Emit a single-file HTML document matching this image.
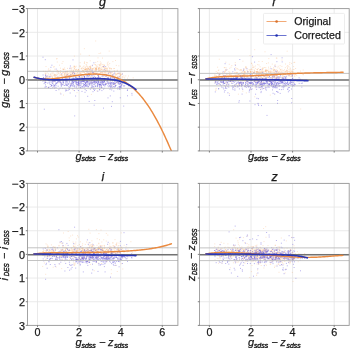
<!DOCTYPE html><html><head><meta charset="utf-8"><style>html,body{margin:0;padding:0;background:#fff;}svg{display:block;will-change:transform;}text{font-family:"Liberation Sans",sans-serif;}</style></head><body>
<svg width="350" height="348" viewBox="0 0 350 348">
<rect width="350" height="348" fill="#fff"/>
<g>
<line x1="27.50" y1="8.60" x2="177.90" y2="8.60" stroke="#e4e4e4" stroke-width="0.8"/>
<line x1="27.50" y1="32.32" x2="177.90" y2="32.32" stroke="#e4e4e4" stroke-width="0.8"/>
<line x1="27.50" y1="56.03" x2="177.90" y2="56.03" stroke="#e4e4e4" stroke-width="0.8"/>
<line x1="27.50" y1="79.75" x2="177.90" y2="79.75" stroke="#e4e4e4" stroke-width="0.8"/>
<line x1="27.50" y1="103.47" x2="177.90" y2="103.47" stroke="#e4e4e4" stroke-width="0.8"/>
<line x1="27.50" y1="127.18" x2="177.90" y2="127.18" stroke="#e4e4e4" stroke-width="0.8"/>
<line x1="27.50" y1="150.90" x2="177.90" y2="150.90" stroke="#e4e4e4" stroke-width="0.8"/>
<line x1="37.50" y1="8.60" x2="37.50" y2="150.90" stroke="#e4e4e4" stroke-width="0.8"/>
<line x1="79.10" y1="8.60" x2="79.10" y2="150.90" stroke="#e4e4e4" stroke-width="0.8"/>
<line x1="120.70" y1="8.60" x2="120.70" y2="150.90" stroke="#e4e4e4" stroke-width="0.8"/>
<line x1="162.30" y1="8.60" x2="162.30" y2="150.90" stroke="#e4e4e4" stroke-width="0.8"/>
<g fill="none" stroke="#f39a50" stroke-width="0.9" stroke-opacity="0.30">
<path d="M87.0 67.2h1M61.6 63.4h1M59.0 65.2h1M93.7 64.4h1M83.8 63.1h1M98.6 73.2h1M113.5 71.3h1M57.5 72.0h1M84.1 61.8h1M106.1 68.5h1M112.1 75.0h1M56.5 58.5h1M74.1 67.8h1M44.5 81.7h1M85.6 66.4h1M48.6 80.4h1M100.7 63.1h1M106.8 79.6h1M86.1 65.1h1M98.1 69.1h1M114.6 75.3h1M90.0 68.3h1M91.1 72.1h1M109.4 82.3h1M63.2 69.0h1M95.1 68.7h1M95.8 74.5h1M95.2 65.1h1M71.5 71.5h1M100.8 86.4h1M108.4 65.0h1M51.4 75.3h1M63.1 72.4h1M82.0 70.6h1M57.7 71.4h1M104.6 71.2h1M117.9 81.4h1M70.8 68.4h1M83.6 68.5h1M89.3 66.8h1M96.0 68.9h1M75.1 70.4h1M89.7 60.8h1M65.5 75.5h1M65.9 73.4h1M110.9 69.0h1M88.8 75.7h1M113.9 71.0h1M45.0 74.8h1M75.8 72.1h1M61.5 76.9h1M97.6 64.7h1M48.0 73.9h1M79.3 75.5h1M65.6 78.7h1M72.9 70.1h1M89.1 71.7h1M99.1 65.3h1M73.2 71.3h1M47.3 87.4h1M103.2 67.4h1M99.3 79.6h1M98.5 76.3h1M122.1 79.8h1M102.5 70.9h1M93.9 74.4h1M92.2 69.0h1M107.8 76.5h1M66.0 75.5h1M127.7 79.9h1M45.1 78.6h1M86.3 76.1h1M82.8 68.5h1M86.4 71.5h1M92.9 68.3h1M101.4 72.4h1M90.6 81.8h1M54.5 74.5h1M59.8 77.8h1M60.6 74.3h1M111.1 79.7h1M123.4 77.2h1M103.1 70.3h1M89.6 72.8h1M74.0 68.8h1M115.5 79.2h1M106.6 75.9h1M60.8 74.6h1M112.5 76.0h1M89.5 70.7h1M128.0 76.0h1M84.1 73.3h1M117.3 76.5h1M53.1 67.0h1M60.1 70.5h1M55.2 75.0h1M81.1 68.1h1M82.6 71.6h1M68.6 75.6h1M115.8 65.4h1M95.1 64.6h1M84.8 69.3h1M78.0 69.5h1M99.8 68.6h1M86.5 70.6h1M101.7 72.7h1M82.0 77.3h1M87.5 73.1h1M91.4 69.4h1M110.0 73.6h1M80.2 78.3h1M100.9 69.4h1M120.1 74.1h1M70.7 73.3h1M86.5 79.3h1"/>
<path d="M96.1 65.9h1M95.9 68.2h1M48.0 77.7h1M120.0 78.1h1M88.2 73.8h1M56.2 70.9h1M65.8 76.0h1M52.1 77.3h1M98.1 68.6h1M53.1 78.5h1M75.7 71.3h1M64.0 75.2h1M100.0 72.3h1M69.0 76.0h1M117.0 81.1h1M80.1 54.1h1M84.7 71.4h1M61.4 74.6h1M45.2 71.3h1M80.3 73.4h1M100.1 53.1h1M57.9 77.2h1M69.8 75.5h1M120.1 74.9h1M107.7 78.0h1M76.2 76.1h1M71.5 77.0h1M121.0 79.1h1M73.2 67.1h1M106.9 68.2h1M104.0 65.1h1M94.1 72.0h1M77.5 76.1h1M63.0 69.4h1M52.9 87.3h1M99.1 70.6h1M72.9 90.4h1M68.7 77.1h1M85.6 64.3h1M115.0 73.1h1M89.6 73.4h1M60.2 81.6h1M78.0 71.4h1M81.3 74.6h1M103.7 77.9h1M66.8 74.6h1M62.3 75.9h1M62.1 77.6h1M65.9 74.4h1M107.9 72.4h1M76.2 80.8h1M73.7 68.8h1M56.8 77.3h1M45.5 77.1h1M45.5 66.5h1M74.4 72.8h1M62.5 61.6h1M53.1 80.7h1M106.9 71.0h1M98.6 53.5h1M64.4 69.5h1M95.3 73.1h1M90.9 83.3h1M106.8 69.1h1M119.0 76.3h1M98.1 67.9h1M113.2 76.5h1M97.5 75.8h1M103.9 74.7h1M106.8 65.2h1M96.0 69.3h1M52.5 73.6h1M98.5 68.5h1M113.9 78.1h1M95.9 73.9h1M90.3 68.3h1M104.5 73.8h1M88.4 69.1h1M101.4 69.3h1M119.6 76.8h1M96.6 90.9h1M104.8 70.8h1M96.5 69.3h1M88.2 68.2h1M102.5 74.7h1M117.9 73.4h1M124.2 71.5h1M117.5 82.6h1M76.9 75.8h1M56.2 59.0h1M70.0 74.4h1M66.3 72.3h1M89.7 67.6h1M84.0 63.1h1M103.1 69.3h1M59.8 72.4h1M117.1 82.4h1M63.7 74.4h1M80.8 74.3h1M89.7 78.0h1M117.5 74.0h1M93.8 67.7h1M80.2 74.8h1M121.7 73.4h1M46.6 77.3h1M71.5 67.8h1M80.8 68.7h1M74.3 73.2h1M77.1 75.4h1M67.1 76.3h1M107.2 64.2h1M99.7 69.9h1M94.4 69.1h1M67.3 74.6h1M88.7 71.7h1"/>
<path d="M89.0 69.5h1M73.1 70.7h1M90.0 72.5h1M113.1 68.6h1M54.5 76.4h1M60.5 77.7h1M91.9 71.7h1M52.9 71.9h1M104.4 67.6h1M109.2 68.3h1M53.1 82.0h1M64.0 73.6h1M88.3 68.7h1M54.1 74.2h1M49.2 77.0h1M105.8 70.9h1M75.3 73.9h1M50.0 70.1h1M57.0 74.7h1M132.7 77.8h1M79.7 62.7h1M99.8 61.9h1M65.1 71.4h1M120.3 74.8h1M51.3 73.8h1M49.1 78.4h1M86.1 74.7h1M105.6 76.0h1M77.3 70.4h1M82.9 71.8h1M75.8 69.2h1M95.6 69.3h1M59.9 93.0h1M88.2 69.2h1M97.5 75.3h1M88.3 71.3h1M49.8 75.1h1M93.0 72.2h1M97.8 69.0h1M83.0 70.7h1M53.7 75.6h1M89.8 66.8h1M95.0 71.0h1M68.2 73.7h1M56.0 77.6h1M95.4 72.9h1M65.0 74.2h1M66.3 76.8h1M77.0 73.0h1M102.7 71.7h1M122.0 76.8h1M104.8 70.3h1M116.2 74.8h1M107.8 73.1h1M72.4 71.4h1M95.5 73.5h1M125.2 75.9h1M71.1 74.6h1M61.3 75.6h1M55.2 77.1h1M72.4 73.3h1M85.6 73.6h1M43.7 78.9h1M86.3 69.3h1M104.0 65.6h1M64.6 73.5h1M79.2 83.5h1M74.9 69.6h1M78.6 77.6h1M64.6 72.6h1M110.2 74.3h1M117.6 76.1h1M83.3 75.0h1M69.6 76.2h1M108.6 71.0h1M92.7 69.1h1M46.5 71.6h1M51.0 80.6h1M76.6 70.1h1M109.4 72.1h1M67.6 73.1h1M75.6 75.3h1M44.7 72.0h1M120.7 80.7h1M110.1 68.7h1M87.9 68.3h1M82.3 77.2h1M87.5 81.3h1M71.3 79.3h1M95.9 70.2h1M75.8 69.8h1M75.1 67.1h1M107.7 62.0h1M51.8 76.8h1M87.7 71.2h1M94.5 71.1h1M103.4 75.0h1M82.7 72.1h1M57.9 71.5h1M66.8 71.3h1M70.5 83.4h1M85.8 71.5h1M105.7 67.1h1M80.2 73.1h1M79.7 72.6h1M67.5 71.2h1M103.9 74.7h1M58.4 73.7h1M84.6 75.4h1M51.6 72.2h1M60.0 68.2h1M84.4 70.2h1M63.1 80.6h1M102.1 66.6h1M76.6 79.1h1"/>
<path d="M99.2 80.9h1M86.6 68.4h1M91.6 69.2h1M115.0 82.2h1M101.4 68.8h1M115.7 71.1h1M90.1 70.6h1M108.7 51.1h1M96.5 74.6h1M55.7 74.8h1M53.5 78.5h1M105.6 78.9h1M115.4 74.3h1M53.8 66.7h1M114.4 83.9h1M102.8 75.6h1M102.3 64.5h1M74.5 75.7h1M47.2 75.4h1M108.9 68.9h1M113.3 79.2h1M88.5 66.9h1M85.1 74.2h1M102.0 58.1h1M77.9 70.0h1M78.1 69.8h1M50.0 73.9h1M112.0 81.1h1M86.3 71.2h1M105.0 72.0h1M72.9 78.2h1M59.6 73.9h1M84.4 69.5h1M88.6 80.1h1M108.8 72.2h1M98.4 75.8h1M109.2 70.7h1M62.9 69.7h1M93.7 72.3h1M114.0 68.5h1M102.1 75.2h1M101.4 67.5h1M61.1 83.8h1M99.0 67.8h1M90.7 71.8h1M95.2 68.7h1M107.1 80.7h1M90.9 76.5h1M106.1 83.5h1M71.4 71.9h1M86.4 68.8h1M101.4 72.0h1M117.2 79.0h1M111.4 77.7h1M119.2 74.6h1M54.3 77.1h1M91.5 69.0h1M96.7 72.8h1M80.7 68.9h1M105.4 72.7h1M89.1 73.3h1M67.0 75.4h1M60.4 78.7h1M80.0 75.9h1M106.5 73.2h1M101.6 72.7h1M89.4 66.4h1M109.3 67.8h1M111.7 86.0h1M86.6 68.7h1M86.7 66.3h1M57.9 73.0h1M117.0 71.3h1M69.7 77.1h1M98.4 71.0h1M111.0 74.0h1M110.3 77.2h1M85.1 67.8h1M46.2 78.8h1M66.3 71.3h1M86.8 70.4h1M67.8 75.3h1M111.7 72.3h1M92.7 73.7h1M66.8 78.9h1M89.7 79.1h1M46.6 72.9h1M76.5 92.7h1M86.9 69.5h1M95.3 70.2h1M61.0 79.3h1M103.3 72.2h1M115.4 75.0h1M70.0 71.8h1M112.7 73.3h1M45.5 76.4h1M55.9 75.6h1M93.6 70.2h1M109.2 63.5h1M82.8 70.9h1M94.5 76.2h1M58.9 76.0h1M81.5 71.9h1M98.2 71.5h1M104.7 68.3h1M100.0 63.9h1M88.8 55.4h1M66.7 77.9h1M108.7 71.8h1M90.0 68.2h1M119.4 73.1h1M70.5 72.5h1M89.6 76.2h1M44.8 73.7h1"/>
<path d="M105.7 70.3h1M47.8 70.2h1M47.0 77.9h1M104.1 71.3h1M118.3 73.1h1M63.8 76.3h1M73.9 56.1h1M43.0 71.3h1M128.7 79.5h1M92.3 73.4h1M64.8 75.8h1M115.0 60.5h1M115.1 74.0h1M59.9 75.3h1M100.1 72.6h1M57.7 79.5h1M83.9 72.3h1M58.3 82.9h1M103.4 67.2h1M89.6 76.0h1M95.0 69.0h1M90.1 66.1h1M54.7 75.5h1M78.3 74.3h1M66.8 72.0h1M69.7 74.2h1M48.8 70.4h1M106.5 69.2h1M95.2 62.4h1M119.7 73.3h1M110.2 72.9h1M57.0 70.4h1M121.5 77.1h1M56.6 73.0h1M79.6 73.4h1M85.4 69.6h1M60.3 77.4h1M106.9 63.0h1M85.3 68.5h1M86.1 62.4h1M77.1 85.7h1M87.8 76.6h1M119.7 75.7h1M95.8 71.1h1M100.3 70.4h1M116.4 74.0h1M79.2 65.8h1M104.1 72.2h1M77.0 72.6h1M113.2 75.3h1M116.9 70.3h1M66.9 76.2h1M83.9 48.7h1M85.5 69.7h1M63.9 74.8h1M62.1 69.1h1M88.3 71.8h1M85.7 71.7h1M102.2 70.0h1M66.6 77.4h1M111.2 77.5h1M91.7 68.5h1M63.0 95.1h1M90.3 71.4h1M118.3 65.8h1M62.5 72.9h1M64.1 77.3h1M73.0 74.5h1M109.5 72.7h1M91.9 71.5h1M61.8 72.7h1M67.0 68.4h1M73.7 65.9h1M72.2 72.1h1M94.7 73.3h1M85.1 71.0h1M120.6 84.8h1M51.1 76.3h1M84.5 69.5h1M83.5 70.0h1M92.2 75.5h1M95.3 69.2h1M72.9 72.6h1M90.8 72.3h1M130.6 82.1h1M90.7 73.9h1M105.2 68.5h1M95.5 71.2h1M69.1 72.8h1M82.1 67.9h1M54.2 69.2h1M111.1 68.6h1M112.5 76.9h1M56.8 62.0h1M78.5 72.8h1M75.8 75.5h1M118.1 80.7h1M106.3 75.8h1M100.2 65.8h1M102.8 76.3h1M73.9 72.5h1M88.7 70.5h1M115.7 77.3h1M81.5 72.6h1M121.0 74.5h1M72.3 74.2h1M91.3 74.0h1M100.4 75.9h1M66.3 71.5h1M127.0 78.2h1M98.8 70.1h1M95.7 67.9h1M83.2 76.2h1M111.8 71.7h1"/>
<path d="M84.5 67.4h1M118.9 80.4h1M57.5 79.2h1M48.1 68.9h1M45.3 73.6h1M88.0 73.6h1M81.9 70.1h1M111.9 74.5h1M80.0 66.2h1M109.4 71.6h1M120.1 75.6h1M99.1 64.5h1M86.3 72.6h1M100.6 64.4h1M97.5 57.9h1M83.0 74.8h1M123.4 75.8h1M82.7 66.8h1M90.3 73.6h1M73.8 66.5h1M95.2 41.0h1M116.7 73.3h1M114.1 84.6h1M106.3 74.7h1M96.6 73.4h1M107.0 71.0h1M104.3 73.0h1M74.2 74.9h1M69.9 77.5h1M85.2 69.4h1M76.2 73.7h1M102.9 65.1h1M72.0 73.6h1M80.6 77.6h1M97.2 61.6h1M107.9 74.3h1M115.9 77.7h1M107.5 70.8h1M79.3 77.9h1M56.6 80.0h1M121.8 84.1h1M101.8 66.4h1M106.7 72.0h1M82.1 75.8h1M112.4 61.6h1M93.4 82.3h1M116.6 77.3h1M59.9 72.3h1M45.6 77.9h1M104.5 74.6h1M74.5 75.8h1M74.1 66.4h1M73.0 79.9h1M99.3 65.7h1M76.5 77.5h1M71.4 70.2h1M63.6 71.9h1M114.1 71.3h1M62.2 76.4h1M82.8 74.6h1M54.4 80.3h1M67.7 77.2h1M48.5 78.7h1M51.7 77.7h1M90.9 94.4h1M53.6 74.9h1M85.6 73.5h1M69.7 67.7h1M108.0 66.9h1M66.3 75.9h1M69.4 70.2h1M92.7 72.5h1M64.7 77.0h1M67.6 80.0h1M53.6 75.2h1M105.4 69.9h1M91.2 74.5h1M81.4 78.5h1M72.0 74.6h1M49.6 74.9h1M117.0 73.3h1M67.0 73.3h1M79.2 71.0h1M99.6 67.8h1M58.2 78.6h1M81.0 71.4h1M96.6 66.3h1M75.7 66.2h1M83.8 72.3h1M91.3 70.6h1M61.3 75.5h1M125.2 81.2h1M83.5 66.0h1M86.9 62.8h1M124.2 78.0h1M70.8 70.0h1M97.2 67.1h1M95.6 68.2h1M107.3 78.2h1M100.4 69.8h1M94.1 73.8h1M70.7 74.5h1M54.2 81.0h1M90.4 67.4h1M104.2 68.5h1M95.5 67.3h1M121.8 78.1h1M87.6 69.1h1M64.1 68.0h1M98.5 67.3h1M98.8 69.1h1M98.0 70.3h1M91.8 66.0h1M79.4 66.7h1"/>
</g>
<g fill="none" stroke="#6458d8" stroke-width="0.9" stroke-opacity="0.52">
<path d="M54.1 88.3h1M48.0 87.8h1M93.1 88.8h1M99.6 77.9h1M111.4 87.8h1M65.2 85.1h1M104.2 85.0h1M111.9 80.6h1M110.2 87.2h1M61.8 84.7h1M51.2 85.5h1M43.1 77.4h1M74.2 115.9h1M77.9 90.5h1M68.8 81.8h1M108.4 84.0h1M110.0 80.5h1M58.3 81.2h1M116.1 82.6h1M84.1 77.1h1M103.8 81.5h1M120.9 86.0h1M45.8 86.7h1M57.3 77.2h1M85.5 80.1h1M96.2 80.9h1M118.5 88.7h1M86.8 82.0h1M77.9 81.8h1M100.7 84.8h1M119.1 84.6h1M114.3 87.7h1M69.4 68.4h1M50.6 84.4h1M89.2 85.2h1M92.9 80.0h1M83.9 78.7h1M85.8 79.3h1M60.9 77.3h1M119.6 89.1h1M108.1 77.9h1M77.7 81.4h1M111.7 84.9h1M47.4 79.1h1M119.2 83.0h1M106.9 83.1h1M45.4 82.6h1M91.8 83.0h1M60.5 84.2h1M101.0 85.6h1M96.3 73.6h1M70.7 84.2h1M87.6 87.1h1M73.1 84.7h1M80.6 75.5h1M94.7 83.4h1M82.8 79.7h1M100.8 82.8h1M114.9 83.6h1M98.0 76.4h1M78.1 80.6h1M123.5 86.1h1M71.0 76.4h1M51.7 80.0h1M49.7 84.5h1M83.6 80.9h1M66.5 83.8h1M85.4 80.8h1M42.4 81.2h1M80.4 88.2h1M80.5 83.7h1M78.7 80.2h1M81.3 76.9h1M69.0 77.6h1M59.5 88.2h1M83.8 82.0h1M92.4 72.4h1M94.0 90.5h1M103.0 108.1h1M100.8 83.1h1M113.5 86.5h1M119.6 78.8h1M75.8 81.1h1M58.9 78.6h1M107.8 83.9h1M88.6 73.6h1M48.8 83.2h1M83.0 74.8h1M91.9 65.3h1M100.2 78.2h1M44.4 82.1h1M85.8 90.6h1M70.2 86.4h1M83.0 85.4h1M87.0 79.1h1M114.4 84.0h1M103.0 66.5h1M62.2 88.3h1M106.2 78.8h1M82.8 81.0h1M102.2 82.6h1M96.1 79.9h1M88.7 75.6h1M112.2 80.1h1M95.2 82.2h1M103.1 89.1h1M119.5 87.8h1M88.9 82.8h1M71.9 80.2h1M112.4 87.9h1M87.5 79.0h1M89.1 80.3h1M80.5 84.1h1M83.7 77.2h1M78.9 76.6h1M66.4 79.9h1"/>
<path d="M110.6 86.1h1M118.9 89.0h1M115.6 85.4h1M81.6 81.4h1M111.7 83.2h1M99.6 84.4h1M98.8 85.0h1M106.4 78.3h1M90.6 82.6h1M104.1 81.9h1M55.1 84.5h1M90.4 80.9h1M97.6 83.8h1M53.7 85.8h1M48.9 76.9h1M78.6 85.2h1M101.9 79.4h1M64.5 88.3h1M86.5 77.8h1M95.0 77.9h1M70.6 85.2h1M60.7 85.2h1M44.8 59.7h1M89.7 79.1h1M84.7 82.3h1M72.4 85.7h1M55.1 79.0h1M74.2 85.5h1M75.1 81.2h1M105.2 83.2h1M111.9 77.6h1M78.1 83.2h1M119.2 86.8h1M114.0 73.1h1M92.6 77.8h1M82.7 81.3h1M118.2 82.7h1M70.4 85.2h1M44.5 79.5h1M71.7 80.8h1M86.6 86.2h1M42.5 57.2h1M69.7 86.1h1M48.6 82.2h1M109.4 82.3h1M93.9 76.2h1M100.1 82.5h1M110.0 78.3h1M84.1 84.6h1M118.6 73.2h1M55.5 87.4h1M84.0 76.4h1M96.0 79.6h1M107.7 82.8h1M77.9 82.9h1M45.0 75.7h1M85.0 85.8h1M62.0 78.5h1M93.4 87.9h1M111.2 89.9h1M92.3 76.0h1M94.9 74.5h1M65.6 80.2h1M89.5 78.6h1M99.2 89.4h1M91.6 85.9h1M51.4 65.2h1M117.1 88.9h1M119.2 76.9h1M87.7 76.2h1M85.6 82.2h1M73.3 82.3h1M108.0 78.2h1M112.8 83.0h1M101.0 81.8h1M86.4 84.7h1M49.8 76.8h1M82.2 86.4h1M116.1 80.4h1M97.1 86.7h1M44.4 87.2h1M72.9 82.4h1M107.0 80.1h1M96.7 86.3h1M81.1 81.7h1M62.9 82.5h1M98.6 84.0h1M78.6 76.6h1M104.5 84.1h1M62.4 82.2h1M52.4 83.2h1M121.0 87.9h1M119.8 86.2h1M123.2 106.1h1M117.4 87.7h1M99.2 87.0h1M100.6 80.4h1M72.7 78.0h1M100.7 87.3h1M75.2 77.6h1M125.1 83.5h1M117.2 77.7h1M113.7 78.4h1M110.0 84.4h1M110.0 83.5h1M55.9 83.2h1M72.0 73.1h1M40.1 80.4h1M85.9 86.2h1M101.8 79.2h1M69.0 78.4h1M93.4 62.8h1M87.4 73.0h1M59.3 80.9h1M111.8 101.7h1M103.0 85.4h1"/>
<path d="M103.2 80.5h1M107.4 85.8h1M90.6 87.8h1M120.9 85.3h1M57.7 86.2h1M54.2 87.0h1M102.3 83.1h1M74.5 87.0h1M68.5 88.1h1M45.0 84.9h1M109.7 86.6h1M90.8 82.1h1M92.9 78.3h1M45.2 75.0h1M90.8 83.9h1M82.9 81.3h1M67.5 90.4h1M96.4 82.7h1M75.1 82.2h1M55.0 81.8h1M62.8 84.9h1M80.9 82.8h1M112.3 79.4h1M80.0 82.1h1M75.7 77.3h1M51.4 85.8h1M96.9 85.1h1M122.8 85.8h1M89.9 89.2h1M50.4 88.5h1M119.7 87.8h1M82.0 80.9h1M62.9 79.4h1M68.3 86.7h1M85.0 83.3h1M84.5 92.3h1M90.1 82.1h1M113.4 84.2h1M100.2 84.3h1M65.8 90.5h1M119.9 83.5h1M106.5 81.0h1M69.9 66.0h1M88.5 75.2h1M86.9 81.4h1M62.4 81.1h1M116.9 81.6h1M88.1 78.0h1M68.7 80.1h1M92.9 82.7h1M55.5 85.7h1M79.7 87.2h1M83.4 84.8h1M56.3 83.7h1M87.2 96.3h1M103.6 81.8h1M103.7 74.6h1M105.0 84.8h1M60.9 85.2h1M87.8 79.7h1M112.3 82.8h1M97.3 80.2h1M119.7 80.7h1M82.3 80.0h1M84.6 89.4h1M67.0 82.1h1M49.7 81.9h1M91.1 80.0h1M78.2 85.6h1M73.9 86.7h1M83.8 80.6h1M98.1 80.7h1M103.2 82.5h1M97.3 77.5h1M97.1 85.4h1M71.6 81.6h1M120.1 83.6h1M95.1 85.8h1M70.2 75.0h1M127.0 89.8h1M104.5 75.9h1M43.6 83.6h1M86.5 76.9h1M110.5 72.2h1M65.2 91.0h1M97.1 83.9h1M64.4 77.2h1M62.3 79.2h1M65.4 76.5h1M102.2 83.0h1M67.7 84.1h1M94.3 81.8h1M47.1 83.1h1M105.5 76.5h1M118.5 86.6h1M54.8 78.4h1M104.9 84.4h1M73.4 78.9h1M109.4 83.6h1M114.9 85.5h1M130.1 86.5h1M108.4 83.2h1M98.8 84.8h1M131.5 95.1h1M103.6 88.3h1M67.8 79.6h1M78.3 87.0h1M90.6 78.7h1M102.2 84.3h1M63.2 83.2h1M102.5 84.6h1M78.4 83.5h1M87.6 82.7h1M66.5 81.1h1M98.0 75.1h1M58.1 81.7h1"/>
<path d="M114.3 82.8h1M96.0 82.4h1M119.7 83.7h1M54.1 85.1h1M45.2 77.2h1M74.0 90.6h1M102.4 81.3h1M92.6 86.7h1M99.5 82.0h1M120.3 86.5h1M51.8 82.0h1M95.4 79.2h1M113.3 91.1h1M99.0 86.9h1M79.9 85.4h1M65.4 79.3h1M72.5 59.9h1M105.6 84.3h1M53.9 79.6h1M87.4 85.8h1M84.9 83.5h1M94.1 82.7h1M53.2 86.2h1M127.0 95.8h1M61.9 79.7h1M43.8 80.0h1M102.4 76.0h1M99.1 89.9h1M73.1 83.0h1M102.0 81.3h1M97.8 82.5h1M61.8 84.1h1M113.0 82.9h1M97.5 81.6h1M65.0 84.0h1M95.8 82.7h1M113.2 79.8h1M42.3 78.9h1M44.6 78.6h1M70.7 80.7h1M80.8 81.1h1M92.5 91.7h1M76.7 84.4h1M46.6 79.3h1M109.8 80.8h1M80.9 86.2h1M117.8 84.0h1M52.1 81.4h1M84.8 86.2h1M93.0 77.5h1M83.6 87.4h1M86.0 80.9h1M97.0 83.9h1M43.2 80.6h1M57.2 82.4h1M96.6 79.3h1M52.2 87.8h1M81.6 79.9h1M93.4 86.3h1M95.1 81.2h1M76.6 88.8h1M72.5 84.1h1M78.0 83.1h1M109.9 88.2h1M89.7 69.4h1M61.6 79.4h1M53.4 81.3h1M92.8 81.7h1M104.0 80.6h1M86.8 82.9h1M82.9 83.8h1M85.3 83.8h1M102.5 82.8h1M114.0 83.4h1M64.7 77.9h1M77.0 82.6h1M51.1 85.6h1M104.4 80.3h1M72.5 86.3h1M65.5 89.7h1M90.3 79.0h1M60.8 86.6h1M114.2 81.6h1M72.9 72.1h1M91.4 87.1h1M83.3 79.6h1M89.1 83.5h1M94.3 81.0h1M59.0 81.9h1M109.0 85.8h1M59.9 82.1h1M117.2 79.3h1M76.4 79.7h1M78.1 84.6h1M65.6 81.7h1M73.5 80.1h1M85.8 82.5h1M68.6 79.6h1M64.5 78.7h1M51.9 80.5h1M98.1 76.8h1M94.9 77.5h1M126.9 90.5h1M107.6 81.9h1M79.8 78.2h1M68.4 79.7h1M56.5 82.7h1M111.3 86.6h1M66.3 85.2h1M71.7 83.3h1M131.4 93.4h1M81.5 91.4h1M121.2 84.8h1M98.2 77.5h1M92.3 81.0h1M109.5 85.8h1"/>
<path d="M78.0 80.2h1M58.4 89.7h1M57.1 81.7h1M84.7 82.8h1M84.9 85.4h1M97.3 91.2h1M92.0 80.4h1M90.8 75.5h1M100.1 85.7h1M45.1 82.3h1M50.4 86.4h1M97.7 78.8h1M52.8 84.7h1M66.3 84.5h1M119.5 80.3h1M110.9 82.6h1M93.3 84.5h1M78.5 82.2h1M77.5 79.4h1M72.3 88.9h1M121.3 84.1h1M79.7 78.8h1M82.0 87.0h1M121.6 83.6h1M60.4 94.0h1M107.5 97.9h1M96.4 81.5h1M108.2 73.3h1M113.0 77.2h1M87.9 86.5h1M113.8 78.8h1M111.2 83.0h1M65.7 77.8h1M73.8 73.7h1M60.6 83.4h1M107.5 78.9h1M98.3 82.5h1M117.3 82.9h1M120.3 87.1h1M91.5 85.7h1M88.3 83.9h1M110.8 84.1h1M92.9 74.7h1M78.9 77.9h1M86.9 80.8h1M69.3 87.5h1M75.9 81.1h1M106.6 81.7h1M100.9 87.2h1M101.6 78.2h1M111.0 106.4h1M94.1 81.6h1M79.2 78.8h1M81.5 78.3h1M78.0 82.7h1M76.2 86.0h1M84.3 79.8h1M101.4 90.6h1M78.6 81.5h1M65.4 81.8h1M72.4 81.6h1M76.2 82.5h1M106.4 79.1h1M100.8 80.7h1M68.5 89.0h1M68.6 75.7h1M124.2 85.8h1M51.2 82.0h1M76.2 78.9h1M60.8 82.8h1M55.6 90.5h1M64.8 71.8h1M90.2 83.6h1M95.0 86.5h1M108.2 86.8h1M77.7 84.0h1M42.9 77.9h1M74.1 79.3h1M76.1 87.2h1M75.1 96.0h1M61.3 73.8h1M75.8 82.8h1M45.1 80.7h1M88.6 84.2h1M66.7 85.7h1M109.8 95.9h1M75.4 83.6h1M113.3 74.2h1M75.9 84.5h1M99.6 83.9h1M83.9 76.7h1M68.9 82.0h1M72.4 82.8h1M98.1 81.7h1M88.7 81.6h1M114.8 86.2h1M89.2 84.6h1M69.8 85.4h1M92.1 79.2h1M51.9 83.4h1M114.3 78.0h1M65.2 76.9h1M115.0 86.1h1M47.4 76.3h1M97.4 75.5h1M82.4 83.4h1M71.6 85.1h1M112.9 84.2h1M109.5 89.4h1M110.6 85.6h1M91.6 84.2h1M99.6 84.5h1M63.0 79.9h1M76.7 78.4h1M114.2 79.8h1M83.7 81.5h1"/>
<path d="M113.3 86.6h1M110.2 82.7h1M128.0 85.8h1M57.4 78.8h1M55.7 69.1h1M74.3 80.9h1M103.6 79.9h1M103.7 78.8h1M74.0 81.3h1M81.0 78.4h1M68.6 83.8h1M74.1 73.9h1M91.0 80.8h1M93.7 105.2h1M105.7 83.8h1M75.1 80.7h1M98.7 84.6h1M70.5 83.8h1M104.3 86.1h1M86.1 85.3h1M99.0 84.8h1M97.1 80.0h1M103.5 81.4h1M103.2 84.5h1M97.5 79.4h1M111.7 80.1h1M118.1 82.9h1M113.1 84.1h1M43.8 109.2h1M93.4 89.3h1M100.8 78.9h1M87.5 81.7h1M42.6 75.0h1M79.1 84.9h1M102.1 81.2h1M54.2 85.6h1M117.6 77.3h1M46.1 76.2h1M107.0 77.8h1M77.6 85.1h1M94.2 84.7h1M53.7 81.4h1M91.6 70.4h1M48.5 87.1h1M94.7 89.0h1M94.0 80.7h1M91.6 87.2h1M79.2 83.2h1M86.7 81.4h1M63.1 81.8h1M93.3 81.0h1M77.2 84.7h1M106.2 74.6h1M59.9 82.3h1M122.0 74.1h1M104.7 66.5h1M104.1 69.7h1M101.4 87.4h1M84.2 77.5h1M66.5 85.5h1M80.3 87.5h1M97.9 81.3h1M79.5 80.8h1M72.5 81.5h1M76.1 83.0h1M97.5 83.1h1M94.4 82.9h1M65.1 80.3h1M92.4 82.9h1M115.8 82.1h1M83.5 80.1h1M45.3 86.9h1M112.5 76.1h1M84.8 84.9h1M44.5 82.8h1M67.9 84.0h1M119.8 97.8h1M48.7 80.6h1M78.9 76.4h1M119.2 87.0h1M88.7 101.4h1M101.5 76.2h1M82.3 81.3h1M64.0 85.5h1M92.4 72.7h1M66.7 74.7h1M48.1 87.6h1M83.9 84.7h1M107.4 80.4h1M110.0 77.3h1M118.5 83.7h1M101.2 79.2h1M70.9 83.0h1M91.9 82.8h1M74.8 77.0h1M68.8 89.3h1M50.4 67.3h1M71.8 82.9h1M65.5 82.7h1M100.3 81.3h1M112.0 75.2h1M86.6 71.4h1M83.6 86.4h1M55.3 83.5h1M86.5 84.1h1M119.2 88.3h1M85.9 81.7h1M75.3 78.9h1M87.0 75.5h1M99.4 84.8h1M115.5 79.2h1M69.7 93.0h1M80.2 81.9h1M86.3 75.4h1M94.3 100.5h1"/>
</g>
<line x1="27.50" y1="71.30" x2="177.90" y2="71.30" stroke="#bcbcbc" stroke-width="0.9"/>
<line x1="27.50" y1="88.30" x2="177.90" y2="88.30" stroke="#bcbcbc" stroke-width="0.9"/>
<line x1="27.50" y1="80.05" x2="177.90" y2="80.05" stroke="#727272" stroke-width="1.6"/>
<clipPath id="cg"><rect x="27.50" y="8.60" width="150.40" height="142.30"/></clipPath>
<g clip-path="url(#cg)" fill="none" stroke-linecap="round">
<path d="M34.10,77.26 L35.10,77.58 L36.10,77.87 L37.10,78.12 L38.10,78.33 L39.10,78.52 L40.10,78.67 L41.10,78.80 L42.10,78.90 L43.10,78.98 L44.10,79.03 L45.10,79.06 L46.10,79.08 L47.10,79.07 L48.10,79.05 L49.10,79.01 L50.10,78.96 L51.10,78.90 L52.10,78.82 L53.10,78.74 L54.10,78.64 L55.10,78.53 L56.10,78.42 L57.10,78.30 L58.10,78.17 L59.10,78.04 L60.10,77.90 L61.10,77.76 L62.10,77.62 L63.10,77.47 L64.10,77.32 L65.10,77.17 L66.10,77.01 L67.10,76.86 L68.10,76.71 L69.10,76.55 L70.10,76.40 L71.10,76.25 L72.10,76.10 L73.10,75.96 L74.10,75.81 L75.10,75.67 L76.10,75.53 L77.10,75.40 L78.10,75.27 L79.10,75.14 L80.10,75.02 L81.10,74.91 L82.10,74.80 L83.10,74.70 L84.10,74.60 L85.10,74.51 L86.10,74.43 L87.10,74.35 L88.10,74.29 L89.10,74.23 L90.10,74.18 L91.10,74.14 L92.10,74.11 L93.10,74.09 L94.10,74.08 L95.10,74.09 L96.10,74.10 L97.10,74.13 L98.10,74.16 L99.10,74.22 L100.10,74.28 L101.10,74.36 L102.10,74.45 L103.10,74.56 L104.10,74.69 L105.10,74.83 L106.10,74.99 L107.10,75.17 L108.10,75.36 L109.10,75.57 L110.10,75.81 L111.10,76.06 L112.10,76.33 L113.10,76.63 L114.10,76.95 L115.10,77.29 L116.10,77.65 L117.10,78.04 L118.10,78.45 L119.10,78.89 L120.10,79.35 L121.10,79.84 L122.10,80.36 L123.10,80.91 L124.10,81.48 L125.10,82.09 L126.10,82.72 L127.10,83.39 L128.10,84.09 L129.10,84.82 L130.10,85.58 L131.10,86.38 L132.10,87.21 L133.10,88.08 L134.10,88.99 L135.10,89.93 L136.10,90.90 L137.10,91.92 L138.10,92.97 L139.10,94.06 L140.10,95.19 L141.10,96.36 L142.10,97.57 L143.10,98.82 L144.10,100.11 L145.10,101.44 L146.10,102.81 L147.10,104.23 L148.10,105.69 L149.10,107.18 L150.10,108.72 L151.10,110.31 L152.10,111.93 L153.10,113.60 L154.10,115.31 L155.10,117.06 L156.10,118.85 L157.10,120.68 L158.10,122.55 L159.10,124.47 L160.10,126.42 L161.10,128.42 L162.10,130.45 L163.10,132.52 L164.10,134.62 L165.10,136.76 L166.10,138.94 L167.10,141.15 L168.10,143.39 L169.10,145.67 L170.10,147.97 L171.10,150.30 L171.50,151.24" stroke="#ea8a40" stroke-width="1.45" stroke-linejoin="round"/>
<path d="M34.10,77.22 L35.10,77.51 L36.10,77.79 L37.10,78.04 L38.10,78.27 L39.10,78.48 L40.10,78.67 L41.10,78.84 L42.10,79.00 L43.10,79.14 L44.10,79.26 L45.10,79.37 L46.10,79.47 L47.10,79.56 L48.10,79.63 L49.10,79.69 L50.10,79.75 L51.10,79.79 L52.10,79.82 L53.10,79.85 L54.10,79.87 L55.10,79.88 L56.10,79.88 L57.10,79.88 L58.10,79.87 L59.10,79.86 L60.10,79.84 L61.10,79.82 L62.10,79.79 L63.10,79.76 L64.10,79.73 L65.10,79.69 L66.10,79.66 L67.10,79.62 L68.10,79.57 L69.10,79.53 L70.10,79.48 L71.10,79.44 L72.10,79.39 L73.10,79.34 L74.10,79.29 L75.10,79.25 L76.10,79.20 L77.10,79.15 L78.10,79.10 L79.10,79.06 L80.10,79.01 L81.10,78.97 L82.10,78.92 L83.10,78.88 L84.10,78.84 L85.10,78.80 L86.10,78.77 L87.10,78.74 L88.10,78.71 L89.10,78.68 L90.10,78.65 L91.10,78.63 L92.10,78.62 L93.10,78.60 L94.10,78.60 L95.10,78.59 L96.10,78.59 L97.10,78.60 L98.10,78.61 L99.10,78.63 L100.10,78.66 L101.10,78.69 L102.10,78.73 L103.10,78.77 L104.10,78.83 L105.10,78.89 L106.10,78.97 L107.10,79.05 L108.10,79.15 L109.10,79.25 L110.10,79.37 L111.10,79.50 L112.10,79.64 L113.10,79.80 L114.10,79.97 L115.10,80.16 L116.10,80.36 L117.10,80.58 L118.10,80.82 L119.10,81.08 L120.10,81.36 L121.10,81.66 L122.10,81.99 L123.10,82.33 L124.10,82.71 L125.10,83.10 L126.10,83.53 L127.10,83.98 L128.10,84.46 L129.10,84.98 L130.10,85.53 L131.10,86.11 L132.10,86.73 L133.10,87.38 L134.10,88.08 L135.10,88.81 L136.00,89.51" stroke="#2a36b4" stroke-width="1.6" stroke-linejoin="round"/>
</g>
<rect x="27.50" y="8.60" width="150.40" height="142.30" fill="none" stroke="#9a9a9a" stroke-width="0.9"/>
</g>
<g>
<line x1="199.50" y1="8.60" x2="349.20" y2="8.60" stroke="#e4e4e4" stroke-width="0.8"/>
<line x1="199.50" y1="32.32" x2="349.20" y2="32.32" stroke="#e4e4e4" stroke-width="0.8"/>
<line x1="199.50" y1="56.03" x2="349.20" y2="56.03" stroke="#e4e4e4" stroke-width="0.8"/>
<line x1="199.50" y1="79.75" x2="349.20" y2="79.75" stroke="#e4e4e4" stroke-width="0.8"/>
<line x1="199.50" y1="103.47" x2="349.20" y2="103.47" stroke="#e4e4e4" stroke-width="0.8"/>
<line x1="199.50" y1="127.18" x2="349.20" y2="127.18" stroke="#e4e4e4" stroke-width="0.8"/>
<line x1="199.50" y1="150.90" x2="349.20" y2="150.90" stroke="#e4e4e4" stroke-width="0.8"/>
<line x1="209.40" y1="8.60" x2="209.40" y2="150.90" stroke="#e4e4e4" stroke-width="0.8"/>
<line x1="251.00" y1="8.60" x2="251.00" y2="150.90" stroke="#e4e4e4" stroke-width="0.8"/>
<line x1="292.60" y1="8.60" x2="292.60" y2="150.90" stroke="#e4e4e4" stroke-width="0.8"/>
<line x1="334.20" y1="8.60" x2="334.20" y2="150.90" stroke="#e4e4e4" stroke-width="0.8"/>
<g fill="none" stroke="#f39a50" stroke-width="0.9" stroke-opacity="0.30">
<path d="M288.8 73.4h1M256.8 77.2h1M271.7 72.3h1M235.7 74.6h1M259.2 78.3h1M277.4 67.8h1M240.0 82.3h1M223.9 72.6h1M258.0 84.1h1M249.9 77.8h1M276.4 70.3h1M222.0 72.3h1M274.5 70.5h1M276.2 73.9h1M259.2 69.8h1M268.5 72.7h1M226.9 69.7h1M228.2 79.1h1M281.6 70.5h1M268.0 67.2h1M267.4 74.6h1M277.5 78.8h1M294.4 76.1h1M258.5 75.8h1M254.2 71.7h1M239.7 75.9h1M237.1 72.5h1M258.2 73.1h1M235.6 84.6h1M219.1 74.1h1M284.4 72.0h1M251.3 73.2h1M262.2 82.3h1M219.0 78.0h1M245.1 86.4h1M242.0 71.6h1M268.6 71.3h1M252.9 72.7h1M263.4 76.4h1M230.3 74.2h1M256.7 71.5h1M252.0 74.6h1M290.5 71.2h1M284.0 69.8h1M265.5 77.7h1M279.1 68.2h1M258.5 65.0h1M286.1 70.6h1M266.6 76.4h1M257.6 78.7h1M263.1 74.8h1M242.5 73.2h1M275.9 74.9h1M280.7 72.3h1M257.3 75.6h1M274.2 65.9h1M238.4 83.6h1M237.0 74.7h1M257.0 69.8h1M230.3 76.2h1M300.5 79.4h1M220.8 77.9h1M276.4 75.6h1M274.7 73.8h1M243.4 69.3h1M221.3 79.3h1M261.3 86.2h1M262.5 77.2h1M252.6 76.1h1M257.9 68.6h1M274.3 72.0h1M226.4 76.8h1M261.2 76.7h1M217.1 79.6h1M266.0 70.6h1M269.9 75.3h1M242.7 78.9h1M281.9 72.0h1M231.8 76.0h1M271.6 75.2h1M241.2 79.3h1M266.4 75.3h1M245.1 66.9h1M223.5 77.8h1M256.8 71.4h1M267.4 80.2h1M224.4 72.0h1M266.8 70.2h1M258.9 74.8h1M236.9 68.7h1M259.1 74.1h1M293.5 73.9h1M270.5 84.2h1M287.2 74.8h1M237.9 39.6h1M254.2 81.6h1M243.2 70.0h1M256.3 73.2h1M259.6 73.0h1M256.0 71.5h1M276.7 77.8h1M266.1 80.0h1M277.7 66.3h1M224.7 82.9h1M279.8 72.6h1M268.2 72.0h1M283.6 74.1h1M258.5 77.1h1M218.8 59.2h1M248.1 72.8h1M282.9 73.8h1M215.7 71.5h1M281.6 76.3h1M244.9 68.1h1M243.6 73.5h1M261.4 74.0h1"/>
<path d="M293.4 73.8h1M234.5 75.1h1M278.8 76.8h1M216.3 77.1h1M262.0 78.5h1M276.6 75.0h1M257.1 72.4h1M290.2 76.3h1M231.3 65.6h1M287.3 65.5h1M229.1 74.9h1M225.7 67.9h1M284.8 74.3h1M269.9 75.5h1M290.0 73.7h1M239.8 70.0h1M220.2 74.7h1M252.5 79.8h1M273.8 69.8h1M254.2 96.8h1M267.3 76.9h1M285.0 64.0h1M261.4 70.7h1M234.8 78.0h1M234.1 73.0h1M247.6 75.5h1M264.8 76.0h1M280.1 69.8h1M269.9 73.4h1M270.0 71.6h1M249.9 77.0h1M230.7 76.2h1M287.0 70.6h1M288.8 71.3h1M256.6 79.3h1M286.3 75.7h1M256.8 69.2h1M272.6 68.9h1M259.3 73.6h1M268.7 76.4h1M257.1 77.7h1M214.3 75.0h1M249.3 70.9h1M260.4 74.7h1M256.2 74.9h1M250.0 71.6h1M255.7 72.0h1M296.2 75.3h1M276.7 73.4h1M287.1 67.7h1M295.1 68.5h1M272.9 72.4h1M265.3 67.7h1M244.9 71.7h1M275.4 66.9h1M293.5 62.5h1M289.1 74.4h1M215.4 89.2h1M276.9 71.0h1M258.1 72.3h1M284.9 67.7h1M220.7 82.0h1M260.4 72.1h1M258.5 75.3h1M291.5 80.6h1M245.5 75.5h1M295.0 74.1h1M255.1 74.8h1M235.7 68.9h1M259.6 66.8h1M251.8 73.5h1M225.6 73.4h1M266.7 77.5h1M258.4 73.3h1M265.8 70.6h1M253.7 73.4h1M228.3 73.7h1M287.0 68.7h1M291.0 74.2h1M239.9 79.2h1M237.9 84.4h1M227.9 77.7h1M239.5 76.1h1M229.4 75.0h1M264.2 88.5h1M265.8 71.7h1M245.6 74.8h1M225.2 86.4h1M247.1 72.4h1M252.4 67.4h1M269.5 73.2h1M249.5 79.6h1M242.1 76.1h1M224.4 67.6h1M231.3 79.2h1M278.6 72.1h1M286.2 70.1h1M214.4 75.1h1M241.0 69.9h1M286.4 72.4h1M253.6 69.7h1M242.9 75.5h1M262.7 75.1h1M239.4 86.1h1M222.5 77.7h1M255.1 76.0h1M245.6 74.0h1M267.9 75.0h1M289.1 73.6h1M254.9 68.4h1M247.8 79.0h1M292.5 69.8h1M290.0 72.5h1M258.4 73.6h1M256.8 79.3h1M256.1 73.9h1"/>
<path d="M273.2 73.4h1M283.5 76.8h1M262.0 75.7h1M286.6 71.8h1M223.8 76.2h1M284.4 74.0h1M272.6 71.3h1M282.8 76.5h1M271.8 78.0h1M279.2 76.4h1M256.0 76.1h1M256.0 78.4h1M281.5 60.1h1M230.6 79.3h1M239.6 78.3h1M244.1 73.3h1M260.4 73.0h1M254.2 49.7h1M280.3 80.7h1M222.6 76.6h1M265.2 73.8h1M230.8 73.8h1M293.9 76.0h1M272.6 74.6h1M258.4 61.5h1M227.1 73.9h1M290.5 72.9h1M240.1 73.9h1M254.2 74.7h1M261.4 71.7h1M274.6 77.9h1M265.6 73.7h1M266.1 74.3h1M246.9 74.5h1M237.7 69.3h1M243.5 71.8h1M300.2 109.0h1M225.9 74.2h1M218.5 75.4h1M256.2 77.4h1M230.6 75.5h1M251.6 69.4h1M293.1 66.6h1M237.3 77.2h1M228.0 78.4h1M268.8 81.1h1M253.4 81.0h1M273.6 76.7h1M254.9 66.0h1M270.0 72.5h1M257.2 73.4h1M266.1 80.4h1M261.8 69.5h1M253.7 67.0h1M253.9 70.5h1M230.4 75.6h1M219.2 76.0h1M240.6 76.0h1M285.1 72.0h1M249.3 80.6h1M259.6 73.4h1M224.6 71.4h1M275.4 71.6h1M268.3 69.0h1M261.4 69.0h1M249.1 74.1h1M277.0 70.8h1M300.0 71.1h1M279.6 65.7h1M250.6 69.3h1M252.5 71.8h1M224.4 71.1h1M291.1 72.9h1M287.8 71.6h1M241.9 75.8h1M222.4 75.3h1M260.8 77.9h1M273.9 72.2h1M291.9 76.2h1M297.2 72.6h1M279.0 81.2h1M247.9 75.3h1M261.0 81.6h1M288.6 75.5h1M264.4 76.7h1M221.6 78.0h1M236.4 72.3h1M214.5 82.2h1M235.0 75.6h1M265.2 71.0h1M236.8 77.0h1M243.7 71.1h1M260.3 77.7h1M258.9 72.4h1M274.9 73.5h1M250.2 72.5h1M258.0 81.7h1M262.3 69.9h1M275.8 78.4h1M238.9 80.9h1M277.0 80.2h1M277.0 73.3h1M225.4 70.5h1M259.0 70.0h1M243.6 73.8h1M246.5 72.9h1M265.1 71.4h1M277.7 72.0h1M242.4 75.7h1M265.3 73.7h1M261.3 75.3h1M256.3 73.9h1M234.7 64.5h1M283.5 72.0h1M226.6 78.4h1M257.2 64.6h1"/>
<path d="M284.8 73.2h1M215.6 79.1h1M226.1 75.9h1M272.1 77.7h1M246.6 70.5h1M273.8 77.5h1M288.7 75.3h1M231.6 77.6h1M262.2 74.0h1M271.8 64.1h1M281.9 79.2h1M219.3 73.1h1M279.1 77.9h1M239.2 74.8h1M256.5 69.5h1M290.3 72.9h1M255.6 73.3h1M267.3 70.7h1M244.3 77.6h1M273.4 75.0h1M261.3 77.8h1M263.0 72.4h1M259.9 71.2h1M276.0 77.7h1M216.1 76.0h1M217.2 72.5h1M267.4 73.6h1M294.2 62.3h1M249.4 73.3h1M276.8 80.3h1M258.8 73.3h1M258.3 75.0h1M253.0 73.1h1M238.6 75.8h1M244.5 81.2h1M237.9 74.5h1M276.5 75.3h1M251.9 73.9h1M234.6 72.4h1M302.5 74.5h1M289.5 71.3h1M229.1 73.2h1M260.0 73.2h1M291.7 71.8h1M223.8 78.8h1M230.0 81.4h1M227.6 75.6h1M285.8 71.3h1M262.4 68.7h1M271.5 76.2h1M291.1 71.3h1M246.9 82.2h1M286.2 78.2h1M219.1 74.7h1M219.3 78.1h1M215.7 88.4h1M287.2 73.7h1M229.2 75.1h1M257.5 71.9h1M247.2 71.3h1M249.5 55.5h1M260.7 85.2h1M264.9 77.4h1M275.5 69.5h1M243.2 77.9h1M281.9 78.4h1M292.7 71.7h1M270.9 71.3h1M218.0 75.1h1M272.3 76.1h1M262.7 78.3h1M290.1 82.1h1M223.6 77.1h1M288.6 76.5h1M271.5 79.1h1M244.0 72.3h1M229.5 77.4h1M237.9 94.2h1M262.3 68.0h1M274.0 75.8h1M293.4 69.4h1M248.5 73.8h1M256.8 72.1h1M280.7 73.5h1M287.3 72.9h1M267.4 70.8h1M243.2 74.2h1M249.9 69.8h1M286.7 51.2h1M231.4 73.4h1M234.9 78.3h1M251.2 63.6h1M256.9 73.0h1M235.3 76.0h1M269.8 95.1h1M241.2 74.9h1M266.1 73.9h1M279.4 74.4h1M252.5 66.2h1M290.4 70.0h1M268.3 58.6h1M234.8 62.6h1M230.7 77.1h1M240.4 77.2h1M250.7 84.1h1M227.8 75.4h1M256.5 81.6h1M243.1 75.7h1M275.6 74.7h1M280.5 79.6h1M283.1 70.7h1M268.0 77.5h1M247.2 81.8h1M291.5 76.7h1M271.9 76.7h1"/>
<path d="M288.5 69.6h1M246.0 67.2h1M239.2 73.3h1M269.5 73.7h1M251.3 69.0h1M282.8 73.5h1M277.3 77.2h1M240.7 70.9h1M215.4 90.5h1M282.1 81.2h1M270.1 70.9h1M237.5 77.6h1M266.8 75.3h1M289.3 62.6h1M260.4 75.2h1M250.1 72.0h1M276.6 76.2h1M265.1 70.6h1M270.8 78.5h1M239.3 70.2h1M274.6 64.7h1M246.2 68.4h1M238.3 75.8h1M289.6 68.0h1M241.4 72.9h1M235.8 79.1h1M267.6 81.1h1M261.7 71.6h1M278.7 71.9h1M281.4 77.7h1M228.3 71.6h1M253.9 72.1h1M235.2 67.7h1M272.5 81.3h1M232.8 77.7h1M269.6 73.1h1M215.3 79.1h1M277.1 73.3h1M232.8 75.8h1M240.9 84.4h1M287.2 73.8h1M264.5 51.8h1M223.8 67.6h1M292.0 72.1h1M302.8 74.8h1M244.9 72.4h1M244.3 74.5h1M243.2 75.8h1M297.6 73.3h1M246.5 76.5h1M219.4 80.2h1M284.7 77.5h1M254.4 71.3h1M275.9 58.0h1M243.9 71.6h1M262.4 72.8h1M260.6 88.6h1M262.7 68.0h1M235.2 77.3h1M259.7 83.6h1M260.8 72.7h1M285.1 71.3h1M217.5 73.3h1M282.6 74.8h1M245.8 77.8h1M276.0 72.9h1M286.6 66.4h1M273.2 67.6h1M267.9 62.9h1M230.5 67.2h1M238.2 74.4h1M214.3 81.1h1M263.4 71.5h1M261.8 61.5h1M275.4 81.0h1M221.7 78.0h1M241.3 72.7h1M286.9 71.9h1M250.8 71.8h1M227.7 76.4h1M227.3 80.3h1M267.9 71.9h1M258.7 71.7h1M260.7 72.5h1M251.9 71.2h1M264.7 70.4h1M228.8 64.3h1M276.4 58.2h1M284.5 73.5h1M271.3 69.1h1M225.3 62.2h1M248.0 71.7h1M270.0 66.9h1M277.3 74.5h1M279.7 71.0h1M285.7 73.9h1M252.0 65.1h1M250.8 77.3h1M235.1 75.9h1M240.8 75.8h1M215.5 75.8h1M243.5 74.5h1M273.7 70.1h1M265.1 70.9h1M254.2 72.5h1M273.1 70.1h1M252.2 73.7h1M236.7 77.7h1M263.1 76.2h1M258.3 72.3h1M229.4 72.2h1M271.0 73.4h1M288.3 66.6h1M254.9 75.3h1M244.4 74.8h1"/>
<path d="M302.7 70.0h1M245.3 67.2h1M240.4 72.9h1M260.6 79.0h1M244.4 72.7h1M245.8 92.9h1M268.6 71.5h1M266.6 76.2h1M251.1 63.1h1M230.6 77.8h1M226.6 84.0h1M280.6 73.6h1M254.9 76.9h1M229.2 79.6h1M252.7 72.7h1M264.1 67.5h1M217.1 67.2h1M255.7 74.8h1M276.4 71.5h1M226.4 73.8h1M228.9 93.5h1M263.8 76.7h1M217.8 70.6h1M260.8 82.4h1M247.4 78.7h1M281.0 71.9h1M244.1 75.9h1M227.0 75.9h1M267.5 74.8h1M270.7 77.5h1M277.1 73.4h1M229.0 75.4h1M236.1 73.2h1M242.5 73.0h1M236.8 76.1h1M269.9 81.4h1M254.7 87.7h1M219.0 84.5h1M240.3 73.4h1M266.1 63.5h1M242.7 73.8h1M272.9 70.2h1M282.8 74.5h1M264.1 73.6h1M264.6 71.5h1M222.2 74.1h1M239.6 77.1h1M233.3 76.3h1M244.8 80.9h1M250.3 71.9h1M218.3 70.0h1M274.6 76.0h1M274.0 69.4h1M260.4 74.0h1M226.1 82.4h1M242.3 91.2h1M281.4 69.3h1M240.3 69.6h1M214.5 79.6h1M262.9 73.6h1M281.7 79.7h1M221.6 75.8h1M251.5 76.7h1M256.1 72.2h1M248.7 69.5h1M289.2 72.4h1M248.9 75.6h1M249.9 71.6h1M290.8 76.0h1M274.8 72.9h1M242.4 61.2h1M270.8 72.8h1M266.7 74.6h1M291.8 75.3h1M275.6 75.3h1M265.2 69.5h1M291.0 63.4h1M266.0 72.2h1M242.3 81.8h1M231.1 82.2h1M279.8 69.5h1M294.1 81.3h1M275.2 77.8h1M232.0 80.6h1M247.4 76.3h1M261.3 74.7h1M255.7 81.1h1M278.0 72.8h1M281.4 66.4h1M254.0 77.9h1M256.2 72.3h1M274.1 73.4h1M266.1 69.8h1M229.2 68.3h1M249.7 72.9h1M289.2 64.3h1M246.8 75.9h1M224.2 78.9h1M235.8 72.6h1M263.9 73.3h1M249.8 89.2h1M242.6 74.0h1M289.8 68.9h1M233.9 86.9h1M238.4 74.1h1M267.0 78.0h1M225.0 69.6h1M279.3 80.4h1M260.2 75.8h1M224.1 75.8h1M252.6 67.6h1M265.3 79.1h1M262.4 71.4h1M282.3 75.7h1M274.1 76.3h1"/>
</g>
<g fill="none" stroke="#6458d8" stroke-width="0.9" stroke-opacity="0.52">
<path d="M264.4 83.6h1M272.3 86.9h1M242.2 89.4h1M244.5 86.4h1M238.9 88.9h1M241.2 84.6h1M267.5 86.6h1M249.5 80.1h1M291.5 74.7h1M261.8 88.9h1M250.7 80.7h1M268.6 83.9h1M236.6 86.9h1M277.7 77.9h1M223.6 83.4h1M220.4 81.8h1M259.5 79.8h1M225.2 75.9h1M245.0 82.8h1M258.1 80.0h1M281.4 81.0h1M250.5 82.0h1M256.9 79.1h1M273.7 84.5h1M291.7 79.1h1M267.0 80.9h1M280.9 82.3h1M266.5 115.4h1M240.0 75.8h1M292.6 80.7h1M221.1 87.0h1M260.1 89.5h1M265.5 75.8h1M246.9 84.1h1M246.2 79.3h1M285.2 85.7h1M254.7 85.9h1M260.6 84.0h1M250.7 75.2h1M275.6 78.4h1M224.1 83.5h1M273.4 84.6h1M250.9 79.2h1M249.2 78.9h1M260.3 82.4h1M275.8 74.1h1M261.4 80.0h1M284.5 73.8h1M235.1 77.8h1M236.2 78.9h1M258.9 75.9h1M291.0 89.0h1M271.4 85.8h1M222.8 71.8h1M275.2 71.1h1M241.6 94.1h1M270.6 80.4h1M249.1 82.6h1M287.1 82.7h1M268.8 83.8h1M297.8 80.4h1M272.6 87.8h1M265.9 81.3h1M271.9 79.0h1M265.3 79.6h1M291.1 82.3h1M225.6 81.6h1M274.4 85.5h1M251.2 83.4h1M263.1 83.2h1M284.2 83.8h1M223.1 75.4h1M255.6 82.8h1M260.6 75.5h1M274.1 80.9h1M234.5 70.1h1M228.1 84.9h1M232.2 81.4h1M272.5 86.8h1M274.6 86.1h1M264.6 78.7h1M241.5 77.5h1M244.2 78.8h1M276.4 85.5h1M301.5 79.6h1M275.7 84.1h1M266.7 83.0h1M269.8 81.4h1M278.4 79.5h1M289.8 74.0h1M258.5 80.8h1M292.8 85.7h1M293.4 82.0h1M274.1 76.9h1M249.9 74.1h1M286.3 83.3h1M258.8 81.6h1M239.5 83.6h1M244.5 79.2h1M236.5 78.1h1M286.9 82.4h1M236.1 76.1h1M223.6 78.5h1M279.5 85.4h1M244.1 85.9h1M264.4 83.1h1M288.4 83.4h1M256.1 89.4h1M217.7 76.9h1M217.9 79.7h1M279.0 85.7h1M301.3 87.1h1M271.1 86.0h1M232.8 87.6h1M246.5 68.8h1M269.6 79.0h1"/>
<path d="M243.3 69.0h1M218.1 88.8h1M228.5 81.2h1M269.2 84.4h1M242.8 79.9h1M268.8 81.2h1M278.9 89.4h1M237.5 82.8h1M276.2 71.9h1M270.5 68.7h1M265.2 81.0h1M242.0 79.0h1M245.4 79.2h1M250.2 79.8h1M283.9 83.4h1M288.5 85.1h1M282.8 78.6h1M275.1 86.0h1M260.5 92.6h1M249.2 86.5h1M284.3 76.6h1M285.4 85.8h1M273.5 81.6h1M218.2 88.7h1M265.7 80.7h1M224.4 78.0h1M235.9 79.0h1M248.9 90.3h1M283.3 80.2h1M250.1 82.7h1M232.0 88.0h1M239.9 76.5h1M231.2 83.4h1M222.7 83.0h1M238.9 82.7h1M255.9 84.7h1M277.2 80.4h1M266.4 87.7h1M260.6 87.2h1M276.4 61.7h1M263.0 88.5h1M233.7 76.1h1M272.8 86.2h1M252.6 84.7h1M259.4 81.9h1M243.8 76.2h1M246.5 85.8h1M239.4 83.4h1M245.7 83.3h1M258.2 81.1h1M277.2 82.3h1M240.7 77.8h1M238.3 83.1h1M251.6 88.9h1M277.1 100.5h1M257.9 98.7h1M283.2 85.5h1M276.9 80.1h1M266.5 81.3h1M264.8 75.0h1M271.7 81.7h1M235.4 79.4h1M294.3 84.4h1M217.4 84.0h1M241.5 78.4h1M254.5 104.7h1M216.2 84.5h1M241.2 84.7h1M290.7 82.0h1M241.7 88.1h1M272.7 76.9h1M284.3 81.0h1M231.6 79.1h1M287.9 87.6h1M252.7 83.2h1M269.9 83.3h1M223.2 88.9h1M262.4 84.9h1M238.7 85.4h1M266.1 81.3h1M260.9 84.7h1M293.7 83.6h1M226.3 84.6h1M292.4 82.0h1M214.8 91.9h1M240.9 78.8h1M223.9 92.0h1M265.9 78.6h1M290.2 81.1h1M277.3 86.3h1M258.6 79.7h1M280.4 79.9h1M254.0 80.5h1M289.0 83.0h1M268.5 85.4h1M249.1 79.8h1M262.4 79.1h1M256.2 82.9h1M273.7 82.8h1M249.9 83.6h1M260.3 76.6h1M219.1 79.9h1M241.3 85.5h1M257.3 79.9h1M236.0 77.7h1M233.2 77.8h1M277.3 78.0h1M239.1 85.6h1M251.9 82.4h1M270.3 77.6h1M222.8 82.7h1M290.3 82.3h1M273.5 86.7h1M256.3 78.0h1M292.5 82.7h1"/>
<path d="M274.6 66.2h1M265.7 77.8h1M232.4 85.6h1M220.9 82.4h1M236.8 85.5h1M268.5 77.8h1M220.9 78.7h1M251.5 82.6h1M272.0 89.9h1M249.8 88.2h1M250.0 75.2h1M261.2 81.3h1M270.8 82.6h1M263.9 84.9h1M275.4 85.6h1M247.7 86.5h1M274.0 80.1h1M274.7 74.9h1M265.3 87.0h1M263.7 83.3h1M248.8 83.2h1M270.3 82.1h1M253.6 84.8h1M282.2 78.1h1M242.7 83.1h1M257.3 83.2h1M287.2 89.5h1M230.7 80.2h1M266.7 81.0h1M292.0 75.0h1M244.6 86.8h1M265.2 89.1h1M221.3 76.8h1M262.1 78.6h1M264.8 79.2h1M239.6 75.7h1M285.3 78.1h1M234.4 90.2h1M277.2 91.7h1M226.2 88.4h1M219.9 84.6h1M258.1 105.5h1M276.8 87.8h1M260.5 82.1h1M285.0 83.9h1M269.1 81.5h1M281.1 81.9h1M240.9 85.9h1M251.6 80.5h1M223.1 80.5h1M287.5 73.8h1M258.1 82.0h1M281.6 57.8h1M270.8 81.6h1M267.3 83.3h1M222.1 77.8h1M238.8 85.3h1M237.2 86.7h1M257.2 82.8h1M228.4 77.0h1M242.8 70.6h1M223.2 82.2h1M259.3 78.7h1M285.9 76.7h1M263.7 76.1h1M257.8 104.2h1M281.6 78.0h1M248.7 92.0h1M233.9 82.2h1M277.6 76.6h1M270.7 82.2h1M214.9 82.2h1M247.4 83.2h1M257.5 103.4h1M224.4 75.8h1M245.1 78.8h1M235.3 81.3h1M270.7 85.6h1M247.9 87.1h1M276.2 83.2h1M272.3 76.3h1M271.4 83.9h1M290.7 84.6h1M277.9 84.0h1M271.1 82.7h1M245.4 82.4h1M233.4 81.8h1M275.9 78.9h1M288.9 87.5h1M286.0 83.7h1M240.2 82.1h1M243.7 77.3h1M253.5 72.8h1M234.0 68.9h1M272.8 81.3h1M259.3 79.4h1M248.6 85.7h1M234.9 65.3h1M232.8 81.3h1M255.4 83.9h1M255.8 77.8h1M261.9 87.0h1M299.8 79.3h1M262.0 72.6h1M261.2 83.3h1M284.1 86.6h1M259.4 83.6h1M246.7 77.3h1M282.7 77.7h1M289.7 81.2h1M237.0 77.1h1M271.8 83.4h1M275.1 81.7h1M246.4 81.5h1M282.7 89.3h1"/>
<path d="M230.5 81.5h1M257.4 81.7h1M300.8 83.4h1M283.9 85.6h1M239.2 82.8h1M240.3 77.0h1M284.3 78.3h1M269.0 84.3h1M220.6 85.5h1M294.5 84.5h1M255.7 86.2h1M272.5 77.9h1M240.4 82.7h1M278.6 86.2h1M245.5 80.5h1M275.3 82.5h1M237.7 81.6h1M268.6 84.8h1M278.7 80.3h1M238.8 100.7h1M240.7 82.1h1M252.4 75.9h1M269.7 80.7h1M269.9 81.2h1M270.9 83.9h1M275.0 86.9h1M265.2 80.0h1M267.2 80.9h1M279.7 93.4h1M252.8 83.8h1M229.0 81.1h1M218.0 77.5h1M286.9 83.9h1M254.6 78.9h1M282.1 81.9h1M222.5 87.7h1M222.6 84.8h1M263.4 82.4h1M287.9 91.8h1M258.7 85.6h1M235.7 83.9h1M245.0 84.3h1M239.3 59.5h1M283.0 79.0h1M272.5 80.7h1M282.8 83.3h1M236.4 77.3h1M241.3 82.8h1M279.3 83.3h1M264.8 87.8h1M271.3 84.5h1M268.1 80.1h1M269.0 76.2h1M246.4 80.2h1M220.7 80.9h1M242.5 82.9h1M254.1 62.1h1M287.5 84.5h1M214.5 83.2h1M282.9 80.0h1M270.6 54.6h1M280.1 75.7h1M244.9 84.9h1M268.8 76.7h1M224.6 63.7h1M224.9 88.4h1M260.9 86.5h1M249.2 89.8h1M291.2 98.5h1M241.7 76.9h1M267.9 87.1h1M292.1 85.1h1M236.7 76.2h1M277.5 83.9h1M223.1 81.3h1M260.2 85.7h1M218.6 83.7h1M260.7 91.4h1M251.1 76.4h1M280.7 79.9h1M223.8 85.7h1M278.6 78.9h1M280.1 83.2h1M276.1 83.6h1M246.6 81.5h1M298.7 83.4h1M273.7 79.9h1M269.1 87.1h1M235.0 86.6h1M220.1 79.3h1M245.7 85.6h1M283.0 86.6h1M274.1 79.1h1M254.6 81.9h1M254.5 79.0h1M278.6 83.0h1M275.2 85.5h1M287.2 81.5h1M261.1 80.8h1M218.8 74.7h1M223.1 81.3h1M221.5 82.0h1M292.0 78.4h1M293.8 85.9h1M230.2 80.9h1M228.4 84.1h1M237.4 79.9h1M247.2 71.7h1M275.0 85.4h1M279.4 85.8h1M273.2 86.1h1M228.3 87.1h1M261.1 84.3h1M284.6 84.4h1M282.6 84.9h1"/>
<path d="M272.6 93.3h1M259.8 84.3h1M281.4 86.8h1M294.7 79.4h1M278.5 81.5h1M256.8 79.4h1M255.1 94.2h1M248.3 82.6h1M238.3 86.7h1M261.6 83.2h1M272.2 84.1h1M257.7 82.6h1M227.4 86.6h1M262.4 83.7h1M260.8 80.8h1M263.1 83.6h1M255.1 82.5h1M266.5 83.9h1M254.3 81.1h1M225.9 77.1h1M242.3 80.0h1M288.8 90.6h1M262.3 85.7h1M251.1 80.4h1M293.2 80.2h1M266.3 82.7h1M264.7 83.2h1M234.4 88.9h1M285.9 85.4h1M234.2 85.3h1M249.9 85.4h1M283.5 80.0h1M230.0 81.2h1M253.6 81.4h1M285.1 82.4h1M277.7 83.8h1M216.5 83.8h1M232.3 79.7h1M256.8 79.7h1M266.6 80.4h1M263.3 81.0h1M262.3 84.7h1M259.5 87.5h1M241.9 79.0h1M295.1 80.7h1M215.2 81.6h1M259.4 84.2h1M261.4 85.9h1M285.1 78.3h1M255.0 85.0h1M284.9 80.6h1M249.5 82.6h1M283.4 81.9h1M281.7 61.9h1M227.1 83.0h1M225.5 82.9h1M277.5 92.5h1M303.6 81.4h1M249.4 83.6h1M250.7 77.2h1M280.5 81.5h1M281.3 82.4h1M236.0 83.2h1M227.4 92.8h1M232.5 89.6h1M281.8 82.3h1M228.0 80.3h1M276.2 77.2h1M224.5 90.5h1M217.4 81.5h1M271.0 83.1h1M288.4 75.0h1M301.9 83.1h1M252.3 84.1h1M217.0 82.6h1M245.9 87.3h1M286.6 79.6h1M258.6 87.7h1M279.9 80.7h1M268.0 84.3h1M287.3 88.8h1M280.1 81.3h1M282.2 82.0h1M255.7 86.3h1M271.7 82.2h1M278.2 85.7h1M225.2 79.4h1M278.6 77.8h1M277.3 79.5h1M262.2 84.0h1M233.9 79.7h1M211.9 79.3h1M256.4 98.3h1M290.2 83.4h1M287.9 84.5h1M242.3 78.5h1M224.6 79.9h1M227.1 82.6h1M262.3 79.7h1M260.1 69.5h1M222.3 81.6h1M251.9 56.7h1M282.2 82.4h1M289.8 83.0h1M250.7 82.7h1M257.5 79.8h1M234.2 86.1h1M284.9 77.2h1M255.8 80.0h1M280.9 89.6h1M273.4 86.3h1M258.0 76.5h1M241.1 86.1h1M238.4 102.2h1M242.1 85.4h1"/>
<path d="M274.5 83.3h1M239.1 85.0h1M232.7 86.5h1M271.0 84.7h1M242.8 83.2h1M293.2 85.1h1M276.0 91.5h1M278.7 83.7h1M282.4 73.2h1M275.4 87.9h1M283.2 87.7h1M272.8 85.3h1M241.0 83.3h1M257.4 80.6h1M264.1 83.9h1M237.4 78.2h1M275.6 87.6h1M251.6 86.4h1M250.4 83.5h1M222.4 82.4h1M277.0 103.3h1M218.3 83.2h1M274.3 80.1h1M291.7 76.1h1M272.1 83.6h1M249.4 101.0h1M232.3 83.4h1M234.5 84.8h1M215.6 82.2h1M228.9 95.3h1M265.8 90.1h1M261.4 86.8h1M281.9 86.8h1M264.1 79.6h1M255.7 87.6h1M254.8 77.0h1M231.5 80.1h1M276.4 85.0h1M301.8 80.4h1M261.0 81.3h1M292.2 85.0h1M273.4 75.6h1M257.0 82.7h1M250.7 89.5h1M250.8 73.8h1M257.5 87.0h1M292.3 78.3h1M240.8 76.6h1M249.9 87.4h1M250.4 75.9h1M223.5 83.3h1M256.8 83.2h1M266.5 82.6h1M238.9 78.5h1M241.9 75.9h1M225.8 69.9h1M279.8 81.9h1M261.0 105.6h1M233.6 78.4h1M242.8 82.5h1M268.1 80.9h1M232.3 71.8h1M226.8 81.8h1M247.6 86.3h1M269.6 85.5h1M291.2 102.8h1M273.9 83.0h1M275.5 86.5h1M275.8 84.4h1M265.3 83.7h1M268.9 80.5h1M271.5 80.2h1M298.6 77.8h1M231.5 86.2h1M290.5 85.0h1M225.7 85.3h1M280.5 80.5h1M218.6 80.6h1M247.3 85.5h1M258.5 85.9h1M242.4 84.1h1M267.2 85.3h1M257.6 74.9h1M291.8 86.6h1M277.2 82.5h1M274.2 94.1h1M252.8 75.5h1M262.7 85.5h1M237.4 82.8h1M247.6 84.5h1M248.3 77.9h1M256.5 84.9h1M250.2 76.6h1M225.0 87.1h1M230.1 79.7h1M239.6 82.7h1M247.5 81.5h1M251.7 85.4h1M225.3 87.0h1M279.7 77.2h1M240.5 79.4h1M255.2 80.6h1M215.4 80.8h1M283.2 80.1h1M230.2 80.4h1M274.0 87.6h1M225.5 76.3h1M230.5 78.6h1M281.4 83.5h1M219.9 81.9h1M276.2 85.5h1M224.1 77.5h1M259.8 84.4h1M256.6 82.1h1M228.1 80.9h1"/>
</g>
<line x1="199.50" y1="73.40" x2="349.20" y2="73.40" stroke="#bcbcbc" stroke-width="0.9"/>
<line x1="199.50" y1="85.90" x2="349.20" y2="85.90" stroke="#bcbcbc" stroke-width="0.9"/>
<line x1="199.50" y1="80.05" x2="349.20" y2="80.05" stroke="#727272" stroke-width="1.6"/>
<clipPath id="cr"><rect x="199.50" y="8.60" width="149.70" height="142.30"/></clipPath>
<g clip-path="url(#cr)" fill="none" stroke-linecap="round">
<path d="M205.90,79.00 L206.90,78.74 L207.90,78.50 L208.90,78.28 L209.90,78.07 L210.90,77.89 L211.90,77.72 L212.90,77.56 L213.90,77.42 L214.90,77.29 L215.90,77.18 L216.90,77.07 L217.90,76.98 L218.90,76.89 L219.90,76.81 L220.90,76.74 L221.90,76.68 L222.90,76.62 L223.90,76.57 L224.90,76.53 L225.90,76.48 L226.90,76.45 L227.90,76.41 L228.90,76.38 L229.90,76.35 L230.90,76.33 L231.90,76.30 L232.90,76.28 L233.90,76.25 L234.90,76.23 L235.90,76.21 L236.90,76.19 L237.90,76.17 L238.90,76.15 L239.90,76.12 L240.90,76.10 L241.90,76.08 L242.90,76.05 L243.90,76.03 L244.90,76.00 L245.90,75.97 L246.90,75.94 L247.90,75.91 L248.90,75.88 L249.90,75.84 L250.90,75.80 L251.90,75.77 L252.90,75.73 L253.90,75.69 L254.90,75.65 L255.90,75.60 L256.90,75.56 L257.90,75.51 L258.90,75.46 L259.90,75.41 L260.90,75.36 L261.90,75.31 L262.90,75.26 L263.90,75.20 L264.90,75.15 L265.90,75.09 L266.90,75.03 L267.90,74.98 L268.90,74.92 L269.90,74.86 L270.90,74.80 L271.90,74.74 L272.90,74.68 L273.90,74.62 L274.90,74.56 L275.90,74.50 L276.90,74.44 L277.90,74.38 L278.90,74.32 L279.90,74.26 L280.90,74.20 L281.90,74.15 L282.90,74.09 L283.90,74.03 L284.90,73.98 L285.90,73.92 L286.90,73.87 L287.90,73.81 L288.90,73.76 L289.90,73.71 L290.90,73.66 L291.90,73.61 L292.90,73.56 L293.90,73.51 L294.90,73.47 L295.90,73.42 L296.90,73.38 L297.90,73.34 L298.90,73.29 L299.90,73.25 L300.90,73.22 L301.90,73.18 L302.90,73.14 L303.90,73.11 L304.90,73.08 L305.90,73.04 L306.90,73.01 L307.90,72.98 L308.90,72.95 L309.90,72.93 L310.90,72.90 L311.90,72.87 L312.90,72.85 L313.90,72.83 L314.90,72.80 L315.90,72.78 L316.90,72.76 L317.90,72.74 L318.90,72.72 L319.90,72.70 L320.90,72.68 L321.90,72.66 L322.90,72.65 L323.90,72.63 L324.90,72.61 L325.90,72.60 L326.90,72.58 L327.90,72.56 L328.90,72.55 L329.90,72.53 L330.90,72.51 L331.90,72.50 L332.90,72.48 L333.90,72.46 L334.90,72.45 L335.90,72.43 L336.90,72.41 L337.90,72.39 L338.90,72.38 L339.90,72.36 L340.90,72.34 L341.90,72.32 L342.90,72.30 L343.10,72.30" stroke="#ea8a40" stroke-width="1.45" stroke-linejoin="round"/>
<path d="M205.90,79.00 L206.90,78.99 L207.90,78.98 L208.90,78.97 L209.90,78.97 L210.90,78.96 L211.90,78.96 L212.90,78.96 L213.90,78.96 L214.90,78.96 L215.90,78.96 L216.90,78.96 L217.90,78.97 L218.90,78.97 L219.90,78.98 L220.90,78.98 L221.90,78.99 L222.90,79.00 L223.90,79.01 L224.90,79.02 L225.90,79.03 L226.90,79.04 L227.90,79.05 L228.90,79.06 L229.90,79.07 L230.90,79.09 L231.90,79.10 L232.90,79.11 L233.90,79.13 L234.90,79.14 L235.90,79.16 L236.90,79.17 L237.90,79.19 L238.90,79.20 L239.90,79.22 L240.90,79.23 L241.90,79.25 L242.90,79.27 L243.90,79.28 L244.90,79.30 L245.90,79.32 L246.90,79.33 L247.90,79.35 L248.90,79.37 L249.90,79.39 L250.90,79.40 L251.90,79.42 L252.90,79.44 L253.90,79.46 L254.90,79.47 L255.90,79.49 L256.90,79.51 L257.90,79.53 L258.90,79.54 L259.90,79.56 L260.90,79.58 L261.90,79.60 L262.90,79.62 L263.90,79.63 L264.90,79.65 L265.90,79.67 L266.90,79.69 L267.90,79.71 L268.90,79.72 L269.90,79.74 L270.90,79.76 L271.90,79.78 L272.90,79.80 L273.90,79.82 L274.90,79.84 L275.90,79.86 L276.90,79.87 L277.90,79.89 L278.90,79.91 L279.90,79.93 L280.90,79.95 L281.90,79.97 L282.90,79.99 L283.90,80.02 L284.90,80.04 L285.90,80.06 L286.90,80.08 L287.90,80.10 L288.90,80.13 L289.90,80.15 L290.90,80.17 L291.90,80.20 L292.90,80.22 L293.90,80.25 L294.90,80.27 L295.90,80.30 L296.90,80.33 L297.90,80.36 L298.90,80.39 L299.90,80.42 L300.90,80.45 L301.90,80.48 L302.90,80.51 L303.90,80.55 L304.90,80.58 L305.90,80.62 L306.90,80.66 L307.90,80.70 L308.00,80.70" stroke="#2a36b4" stroke-width="1.6" stroke-linejoin="round"/>
</g>
<rect x="199.50" y="8.60" width="149.70" height="142.30" fill="none" stroke="#9a9a9a" stroke-width="0.9"/>
</g>
<g>
<line x1="27.50" y1="183.40" x2="177.90" y2="183.40" stroke="#e4e4e4" stroke-width="0.8"/>
<line x1="27.50" y1="207.07" x2="177.90" y2="207.07" stroke="#e4e4e4" stroke-width="0.8"/>
<line x1="27.50" y1="230.73" x2="177.90" y2="230.73" stroke="#e4e4e4" stroke-width="0.8"/>
<line x1="27.50" y1="254.40" x2="177.90" y2="254.40" stroke="#e4e4e4" stroke-width="0.8"/>
<line x1="27.50" y1="278.07" x2="177.90" y2="278.07" stroke="#e4e4e4" stroke-width="0.8"/>
<line x1="27.50" y1="301.73" x2="177.90" y2="301.73" stroke="#e4e4e4" stroke-width="0.8"/>
<line x1="27.50" y1="325.40" x2="177.90" y2="325.40" stroke="#e4e4e4" stroke-width="0.8"/>
<line x1="37.50" y1="183.40" x2="37.50" y2="325.40" stroke="#e4e4e4" stroke-width="0.8"/>
<line x1="79.10" y1="183.40" x2="79.10" y2="325.40" stroke="#e4e4e4" stroke-width="0.8"/>
<line x1="120.70" y1="183.40" x2="120.70" y2="325.40" stroke="#e4e4e4" stroke-width="0.8"/>
<line x1="162.30" y1="183.40" x2="162.30" y2="325.40" stroke="#e4e4e4" stroke-width="0.8"/>
<g fill="none" stroke="#f39a50" stroke-width="0.9" stroke-opacity="0.30">
<path d="M118.6 250.0h1M51.3 250.5h1M101.0 263.5h1M82.3 252.5h1M96.0 249.9h1M96.3 252.4h1M106.2 261.0h1M98.3 243.8h1M117.1 252.1h1M112.7 247.2h1M117.5 246.2h1M77.3 245.5h1M95.2 250.5h1M107.2 256.9h1M91.4 240.8h1M101.3 242.0h1M93.5 252.4h1M89.1 250.7h1M117.3 247.7h1M102.8 250.2h1M49.0 256.5h1M92.4 252.0h1M92.9 251.8h1M120.6 249.6h1M76.1 250.4h1M77.0 254.2h1M93.9 248.6h1M88.1 254.2h1M71.5 250.1h1M113.2 254.9h1M121.5 248.2h1M60.9 256.7h1M108.1 250.6h1M107.2 250.7h1M114.2 246.1h1M89.6 244.9h1M101.9 254.1h1M96.5 250.7h1M112.4 242.5h1M125.6 246.9h1M82.2 254.4h1M94.4 254.2h1M79.1 263.3h1M100.9 247.9h1M99.5 256.6h1M114.4 250.1h1M72.9 249.7h1M63.0 233.0h1M119.7 252.3h1M74.7 251.7h1M69.1 250.6h1M64.9 249.9h1M68.7 253.6h1M49.6 256.9h1M108.1 253.2h1M105.1 253.0h1M58.5 245.4h1M95.4 249.7h1M75.9 251.8h1M77.3 250.6h1M75.3 242.1h1M103.8 252.5h1M118.8 249.3h1M76.1 251.2h1M76.3 255.0h1M101.5 246.7h1M78.8 251.2h1M103.8 251.3h1M78.6 250.3h1M93.6 245.8h1M45.5 251.8h1M45.5 254.4h1M52.9 249.2h1M101.3 255.8h1M59.9 253.3h1M95.9 249.8h1M90.2 252.7h1M98.3 246.9h1M74.4 263.1h1M56.4 258.0h1M92.4 257.6h1M45.5 259.4h1M122.3 269.0h1M98.8 249.8h1M103.6 252.4h1M74.1 251.0h1M71.5 251.2h1M49.7 255.1h1M80.2 249.4h1M52.8 251.0h1M77.1 250.9h1M47.5 247.8h1M59.2 250.9h1M107.3 235.1h1M76.9 254.4h1M69.3 251.3h1M86.8 247.6h1M116.8 271.5h1M101.4 250.7h1M95.9 229.6h1M115.8 244.3h1M82.0 248.5h1M88.7 254.5h1M83.0 258.7h1M87.0 249.2h1M57.6 249.2h1M103.7 245.4h1M76.9 251.5h1M86.9 251.3h1M46.2 249.8h1M68.7 249.3h1M87.8 252.6h1M106.7 250.5h1M111.1 247.8h1M58.5 246.0h1M78.0 255.8h1"/>
<path d="M79.1 258.1h1M84.3 260.6h1M50.8 253.9h1M131.9 252.2h1M108.0 252.0h1M107.7 247.4h1M111.5 253.0h1M89.9 253.1h1M75.6 247.2h1M63.3 255.3h1M85.7 256.6h1M109.0 248.5h1M65.6 251.3h1M54.1 247.7h1M118.1 250.8h1M51.3 252.5h1M110.8 251.7h1M71.5 251.9h1M103.2 239.8h1M87.9 261.9h1M105.8 233.4h1M97.6 251.4h1M122.3 251.0h1M113.4 260.1h1M110.5 253.4h1M118.8 250.3h1M86.5 254.6h1M80.5 247.2h1M90.2 252.6h1M61.7 249.4h1M85.1 252.4h1M83.4 252.9h1M78.9 248.9h1M72.1 235.1h1M91.2 246.5h1M105.1 255.1h1M84.3 253.5h1M103.7 256.5h1M98.7 248.4h1M110.8 269.7h1M45.7 253.1h1M92.0 246.0h1M84.2 254.3h1M81.2 254.2h1M63.2 253.4h1M60.1 251.2h1M72.5 250.1h1M78.9 244.6h1M78.9 254.6h1M51.1 255.4h1M68.0 252.7h1M91.1 254.8h1M87.8 242.9h1M67.2 250.1h1M56.5 253.8h1M93.1 253.6h1M95.6 253.7h1M119.2 252.9h1M95.2 248.1h1M107.9 249.6h1M61.7 253.3h1M121.2 255.7h1M106.8 248.8h1M109.3 246.1h1M100.2 251.6h1M119.7 248.3h1M102.7 250.6h1M89.8 264.5h1M64.8 259.5h1M73.9 257.7h1M112.9 245.9h1M113.7 247.4h1M64.7 248.2h1M73.6 248.8h1M42.4 255.0h1M99.7 247.7h1M81.9 253.0h1M90.3 251.1h1M95.2 253.8h1M110.9 273.7h1M107.7 249.5h1M85.9 248.9h1M106.2 261.3h1M112.4 243.3h1M130.4 241.7h1M89.0 248.1h1M95.7 251.7h1M96.7 249.4h1M115.1 265.5h1M93.7 270.7h1M109.4 248.6h1M72.8 251.4h1M68.9 240.6h1M102.5 250.9h1M103.9 245.9h1M92.8 247.7h1M77.3 250.0h1M78.6 254.2h1M106.6 257.4h1M102.6 253.4h1M59.5 242.8h1M84.8 244.4h1M98.4 233.6h1M93.5 250.8h1M113.8 251.7h1M86.2 250.3h1M91.6 246.0h1M105.4 253.3h1M87.9 252.2h1M65.2 251.2h1M42.8 251.7h1M110.9 250.0h1M67.6 250.4h1M127.3 256.9h1M61.5 255.9h1M55.7 254.7h1"/>
<path d="M102.3 250.2h1M117.9 248.0h1M96.5 256.3h1M57.0 255.2h1M55.7 253.2h1M55.1 247.4h1M78.6 257.9h1M42.5 251.9h1M85.8 251.6h1M108.8 247.2h1M51.9 256.1h1M112.5 253.2h1M73.7 246.5h1M110.0 247.2h1M116.4 242.8h1M76.8 252.0h1M90.9 244.6h1M96.9 251.1h1M96.9 252.3h1M95.6 253.6h1M114.9 255.2h1M57.5 253.2h1M54.5 251.7h1M76.5 251.2h1M52.7 267.2h1M90.8 254.4h1M72.1 254.7h1M94.4 254.0h1M82.5 251.7h1M64.6 247.3h1M91.5 251.6h1M80.1 259.5h1M54.9 255.3h1M87.1 252.0h1M83.9 249.7h1M75.9 238.9h1M83.1 248.8h1M119.4 248.8h1M61.1 243.0h1M73.6 254.3h1M73.8 249.9h1M91.9 246.2h1M70.9 253.4h1M48.1 251.6h1M47.8 254.3h1M60.9 251.2h1M67.0 253.8h1M118.3 252.0h1M87.4 250.3h1M117.5 253.7h1M112.7 256.5h1M88.4 251.1h1M75.0 248.4h1M69.1 257.3h1M82.0 254.5h1M99.7 249.6h1M90.8 249.0h1M91.4 251.0h1M96.4 256.0h1M105.5 251.9h1M96.5 245.3h1M106.1 257.4h1M70.7 250.2h1M101.2 253.4h1M81.1 248.7h1M61.4 250.4h1M89.3 250.4h1M114.5 239.7h1M46.9 256.3h1M117.7 248.6h1M117.6 250.5h1M59.4 254.4h1M96.3 258.3h1M104.5 252.8h1M90.8 255.6h1M54.8 249.8h1M81.1 257.3h1M61.8 260.1h1M90.3 249.9h1M98.3 243.2h1M104.4 256.3h1M88.1 251.7h1M76.4 249.8h1M53.7 247.5h1M65.0 250.4h1M118.0 249.2h1M98.5 247.8h1M72.9 246.1h1M95.7 261.8h1M89.4 250.8h1M70.5 254.7h1M62.7 247.1h1M90.6 257.1h1M65.6 248.0h1M68.7 237.9h1M113.8 248.6h1M70.8 247.9h1M65.0 249.6h1M63.0 253.3h1M83.2 257.9h1M79.9 241.8h1M101.7 247.9h1M55.7 267.0h1M70.8 252.6h1M121.3 250.0h1M77.4 260.7h1M93.0 249.9h1M117.6 249.4h1M62.3 246.8h1M104.5 250.7h1M49.0 249.7h1M75.8 260.5h1M92.6 256.0h1M82.0 251.2h1M62.5 254.9h1"/>
<path d="M81.3 248.6h1M48.0 253.7h1M114.3 247.6h1M86.3 252.3h1M42.5 253.2h1M73.0 246.1h1M61.1 252.8h1M100.4 247.4h1M103.8 247.1h1M96.8 254.9h1M50.9 244.9h1M120.8 263.7h1M83.7 252.7h1M87.7 247.8h1M52.3 254.0h1M119.9 253.5h1M69.0 259.4h1M92.1 248.7h1M62.4 248.0h1M109.1 251.6h1M98.1 251.6h1M67.2 251.9h1M51.4 252.1h1M112.0 254.8h1M98.3 248.6h1M76.2 259.1h1M106.1 249.9h1M117.8 250.1h1M102.0 248.4h1M65.2 253.2h1M55.3 248.9h1M123.5 252.7h1M110.8 252.6h1M74.1 265.1h1M86.7 254.0h1M118.1 245.6h1M65.4 245.0h1M127.3 249.1h1M118.3 251.8h1M69.5 256.6h1M96.7 249.8h1M53.4 251.9h1M54.1 252.3h1M77.8 237.1h1M81.8 245.6h1M86.8 249.0h1M43.9 263.0h1M101.9 250.2h1M76.3 248.1h1M71.6 247.6h1M88.3 252.2h1M82.5 249.5h1M60.4 256.4h1M71.8 251.9h1M81.9 250.0h1M74.3 247.5h1M74.3 248.3h1M75.1 255.1h1M81.5 250.6h1M74.7 256.1h1M61.9 259.0h1M61.4 253.8h1M42.3 253.8h1M47.9 249.9h1M122.3 258.3h1M74.5 264.1h1M115.0 251.1h1M75.6 251.3h1M109.0 251.0h1M47.0 256.2h1M49.5 249.5h1M91.7 249.2h1M82.6 258.2h1M89.2 252.2h1M64.1 256.1h1M65.6 248.1h1M82.0 258.4h1M101.5 253.3h1M47.4 246.5h1M93.6 252.5h1M87.7 251.1h1M84.3 253.6h1M90.5 251.4h1M91.1 255.7h1M42.2 266.4h1M81.6 257.1h1M97.9 252.6h1M85.4 251.3h1M51.6 253.6h1M121.3 251.3h1M109.5 248.8h1M46.9 249.9h1M62.0 249.9h1M73.8 255.5h1M89.6 233.1h1M92.7 249.2h1M100.6 250.0h1M58.5 254.3h1M71.1 256.3h1M49.5 250.7h1M85.0 250.6h1M66.1 248.1h1M80.2 246.5h1M45.5 243.9h1M98.4 254.9h1M115.5 253.4h1M70.2 236.0h1M45.0 260.2h1M111.8 255.9h1M75.3 249.0h1M82.3 247.6h1M72.0 251.7h1M60.1 249.6h1M54.0 250.1h1M42.4 253.1h1"/>
<path d="M121.2 247.0h1M104.9 250.2h1M84.2 249.6h1M102.1 249.8h1M92.7 245.7h1M88.7 255.4h1M45.2 274.3h1M106.3 249.3h1M105.4 251.9h1M83.4 250.8h1M54.4 247.1h1M103.0 252.1h1M100.7 254.3h1M75.2 254.0h1M77.0 235.7h1M52.7 246.5h1M73.6 265.2h1M123.7 245.2h1M107.6 251.4h1M120.1 253.8h1M74.6 246.1h1M80.0 250.2h1M69.6 250.1h1M93.3 253.1h1M97.7 248.5h1M74.1 243.9h1M75.3 243.9h1M43.1 250.3h1M94.2 249.4h1M90.4 248.3h1M73.2 263.0h1M100.6 246.0h1M62.9 249.8h1M88.5 250.8h1M84.5 254.7h1M92.0 253.4h1M105.3 258.3h1M91.3 258.2h1M92.2 256.2h1M127.9 250.2h1M59.2 264.2h1M51.9 252.8h1M116.2 245.3h1M88.4 253.4h1M44.7 250.5h1M84.4 255.3h1M66.6 251.8h1M66.6 248.5h1M109.7 250.8h1M51.8 252.0h1M56.1 256.5h1M99.9 245.6h1M83.6 251.4h1M84.2 252.9h1M100.6 250.1h1M92.1 244.0h1M97.0 248.1h1M44.5 247.5h1M98.9 255.2h1M53.5 247.3h1M61.9 251.5h1M98.0 247.2h1M53.3 251.8h1M91.7 256.1h1M70.8 254.1h1M98.2 253.4h1M67.7 231.5h1M70.4 250.9h1M75.7 250.6h1M103.8 254.5h1M88.2 251.7h1M99.0 239.7h1M116.1 243.8h1M104.3 252.6h1M117.7 250.1h1M45.8 251.7h1M113.3 249.1h1M44.6 254.1h1M62.4 245.7h1M87.4 249.2h1M99.4 246.1h1M120.8 247.5h1M116.7 249.0h1M109.1 243.8h1M82.1 243.8h1M42.2 254.4h1M117.3 251.9h1M98.6 248.5h1M80.9 258.3h1M59.1 254.3h1M105.8 255.7h1M99.3 248.5h1M72.3 254.9h1M77.8 248.4h1M118.8 254.7h1M120.8 232.9h1M110.6 246.8h1M60.2 255.8h1M101.2 253.6h1M109.9 251.4h1M72.6 242.1h1M82.0 248.8h1M108.0 251.0h1M118.6 243.1h1M71.8 254.0h1M84.4 249.1h1M78.4 259.8h1M47.5 252.0h1M95.0 249.3h1M90.3 245.9h1M61.8 243.7h1M42.4 252.0h1M114.8 254.0h1M73.1 251.5h1M126.7 252.0h1"/>
<path d="M82.8 253.8h1M89.2 246.4h1M108.8 257.5h1M97.6 257.1h1M79.0 255.6h1M99.7 256.0h1M71.5 249.3h1M107.2 256.4h1M46.7 244.9h1M97.9 247.5h1M98.4 254.5h1M98.1 248.3h1M115.8 250.9h1M97.8 263.2h1M92.2 259.2h1M62.2 254.5h1M87.8 253.6h1M114.1 247.3h1M105.8 241.1h1M94.0 248.6h1M87.6 249.3h1M47.5 246.0h1M100.5 230.0h1M96.4 251.9h1M101.7 250.6h1M104.9 251.0h1M102.0 249.1h1M56.8 252.0h1M110.2 253.4h1M85.5 248.5h1M78.9 249.7h1M78.3 252.2h1M61.2 268.6h1M110.5 250.3h1M84.5 254.9h1M88.5 252.7h1M111.2 248.7h1M104.6 252.0h1M102.5 252.6h1M82.6 250.1h1M65.1 253.0h1M103.3 248.7h1M71.7 258.2h1M96.7 238.7h1M122.5 250.1h1M86.3 261.3h1M65.6 252.8h1M88.3 258.4h1M104.2 248.4h1M91.9 247.4h1M101.7 249.2h1M107.8 252.1h1M50.7 252.2h1M95.6 250.1h1M117.9 249.0h1M49.8 252.9h1M79.5 248.6h1M97.4 257.7h1M90.0 250.1h1M86.1 242.0h1M45.7 256.2h1M55.1 249.0h1M94.6 250.8h1M101.6 248.8h1M75.0 252.6h1M63.5 251.4h1M64.6 251.6h1M89.6 254.9h1M93.8 248.2h1M97.5 248.7h1M70.8 248.6h1M61.4 250.1h1M82.2 250.8h1M83.1 251.4h1M114.2 250.6h1M68.8 250.6h1M85.0 254.1h1M101.6 245.5h1M115.5 252.8h1M110.7 253.3h1M113.5 252.0h1M85.0 258.5h1M85.4 256.0h1M112.6 245.7h1M99.7 248.2h1M94.9 253.8h1M106.1 249.3h1M72.9 255.6h1M43.3 255.4h1M88.5 245.5h1M96.9 251.6h1M46.6 254.6h1M78.3 259.9h1M57.0 254.7h1M52.1 253.5h1M59.7 256.0h1M60.5 252.5h1M78.8 249.1h1M88.3 229.3h1M93.4 248.2h1M51.3 251.8h1M99.6 248.0h1M75.3 255.2h1M111.2 251.8h1M52.2 250.6h1M121.7 248.6h1M115.0 248.5h1M104.3 247.9h1M115.4 244.8h1M112.4 250.4h1M47.2 247.3h1M82.6 248.0h1M104.6 253.8h1M93.4 251.4h1M72.4 250.5h1"/>
</g>
<g fill="none" stroke="#6458d8" stroke-width="0.9" stroke-opacity="0.52">
<path d="M81.2 254.8h1M115.8 257.1h1M118.7 250.5h1M60.8 257.3h1M62.2 257.0h1M109.3 255.0h1M119.6 254.3h1M80.2 260.9h1M92.4 251.8h1M72.3 264.7h1M96.5 258.7h1M50.4 254.3h1M103.9 266.6h1M76.2 259.1h1M100.7 249.8h1M92.3 261.1h1M90.8 252.3h1M109.1 259.2h1M111.7 254.8h1M109.4 248.4h1M90.1 250.7h1M112.8 264.4h1M113.5 265.5h1M107.7 251.0h1M92.8 252.7h1M106.3 254.1h1M97.6 249.7h1M57.0 247.8h1M70.0 258.6h1M125.0 257.7h1M95.6 257.6h1M87.6 249.2h1M58.4 229.7h1M99.6 255.8h1M79.4 256.4h1M101.4 257.4h1M69.8 265.4h1M46.4 250.2h1M119.7 257.6h1M100.6 257.9h1M79.3 255.2h1M63.4 251.2h1M97.4 259.5h1M93.9 253.5h1M67.0 253.6h1M85.3 253.5h1M87.1 261.3h1M97.9 253.7h1M84.4 254.6h1M123.9 256.4h1M116.2 254.9h1M100.3 260.8h1M62.7 252.2h1M67.6 245.4h1M80.2 246.8h1M131.2 253.7h1M71.1 256.5h1M67.5 253.3h1M110.0 277.1h1M112.7 254.7h1M74.6 249.1h1M111.7 256.9h1M117.2 255.2h1M112.5 254.5h1M92.6 244.7h1M95.1 258.0h1M78.6 254.2h1M92.6 252.5h1M87.3 254.1h1M118.5 251.8h1M54.1 255.9h1M103.3 257.9h1M46.7 268.2h1M87.8 254.3h1M126.6 256.7h1M110.3 257.4h1M83.8 258.5h1M93.4 254.0h1M89.9 257.1h1M115.3 260.6h1M111.5 256.2h1M54.4 264.5h1M55.7 259.1h1M77.1 254.8h1M91.9 257.1h1M111.2 249.6h1M66.4 243.4h1M60.3 262.2h1M108.4 257.9h1M75.3 260.0h1M106.5 256.9h1M87.3 265.4h1M112.9 251.8h1M49.3 255.5h1M63.3 255.3h1M109.0 261.2h1M125.4 249.1h1M49.5 259.0h1M55.2 254.1h1M103.1 253.4h1M82.7 258.5h1M60.9 241.5h1M92.9 260.1h1M80.6 261.9h1M60.3 251.3h1M83.3 254.7h1M65.4 255.2h1M71.1 259.5h1M109.3 260.4h1M122.5 254.6h1M62.8 255.3h1M64.5 257.4h1M93.7 249.8h1M90.5 259.7h1M58.8 255.0h1M73.3 260.0h1"/>
<path d="M82.9 257.2h1M105.5 255.5h1M119.9 259.0h1M56.9 260.0h1M112.8 260.3h1M86.3 261.1h1M88.7 256.6h1M92.5 249.8h1M131.1 257.4h1M104.6 271.9h1M98.5 265.0h1M80.1 251.5h1M65.7 259.3h1M79.6 255.7h1M66.7 248.8h1M63.4 251.4h1M99.8 259.5h1M97.8 258.0h1M78.2 257.2h1M97.0 252.5h1M47.8 253.0h1M63.7 256.9h1M109.5 255.1h1M119.8 245.7h1M76.2 252.0h1M96.5 257.7h1M111.0 254.2h1M46.6 250.1h1M86.2 255.8h1M48.4 261.2h1M71.0 265.1h1M66.2 256.1h1M88.0 260.5h1M96.0 261.5h1M120.7 259.8h1M81.9 260.9h1M112.7 258.4h1M110.5 250.4h1M75.5 262.0h1M82.2 255.5h1M81.8 258.5h1M85.3 258.6h1M83.4 262.2h1M107.7 242.3h1M101.4 254.2h1M80.0 259.3h1M115.9 257.4h1M89.1 262.5h1M107.0 259.7h1M114.3 256.6h1M68.6 254.6h1M54.8 266.3h1M60.7 257.7h1M75.6 252.4h1M114.3 246.9h1M100.9 261.3h1M103.8 256.2h1M102.8 257.3h1M43.6 253.7h1M93.4 261.5h1M53.0 250.8h1M86.0 258.6h1M81.3 256.0h1M95.8 262.4h1M86.9 255.1h1M52.1 247.9h1M109.7 249.3h1M100.4 249.4h1M125.6 258.9h1M115.5 253.2h1M62.9 256.5h1M104.4 258.3h1M81.1 252.2h1M111.3 253.4h1M93.2 253.8h1M115.9 257.3h1M94.2 254.5h1M76.6 259.6h1M87.8 244.4h1M91.6 256.2h1M85.1 261.3h1M102.5 257.9h1M130.5 254.8h1M113.2 258.7h1M94.3 254.8h1M110.6 253.1h1M120.4 259.2h1M106.1 258.2h1M63.5 252.4h1M94.5 248.3h1M91.2 273.1h1M49.8 264.5h1M45.9 263.3h1M53.6 260.4h1M95.3 256.5h1M53.1 255.8h1M81.8 262.5h1M65.6 253.1h1M79.7 264.3h1M80.1 260.2h1M112.7 262.6h1M126.5 258.6h1M83.4 255.8h1M116.5 249.2h1M112.3 259.1h1M98.3 259.5h1M74.5 255.4h1M103.2 258.3h1M118.2 261.1h1M105.9 256.0h1M89.4 257.8h1M113.4 254.2h1M87.1 260.7h1M121.2 257.0h1M98.4 263.6h1M86.0 261.6h1"/>
<path d="M80.9 260.8h1M75.1 252.3h1M69.5 254.2h1M80.3 256.1h1M64.4 271.0h1M111.7 255.3h1M72.7 258.9h1M97.6 257.3h1M94.3 252.5h1M55.4 256.8h1M53.9 252.8h1M55.2 259.0h1M119.6 255.5h1M76.5 259.3h1M65.2 263.4h1M98.7 252.5h1M97.1 259.1h1M66.5 254.9h1M100.6 258.2h1M121.9 263.5h1M83.1 254.5h1M91.3 258.0h1M98.3 255.1h1M91.4 254.7h1M91.4 257.4h1M98.2 249.7h1M73.9 249.4h1M65.5 257.0h1M106.0 259.4h1M47.0 256.0h1M85.6 253.6h1M67.1 260.0h1M86.3 257.2h1M53.6 254.9h1M93.4 252.4h1M106.1 258.0h1M71.5 258.9h1M100.2 246.8h1M64.8 254.4h1M52.2 256.4h1M112.6 260.8h1M114.8 257.3h1M73.2 256.6h1M71.6 267.4h1M42.2 254.8h1M122.4 256.1h1M85.5 262.7h1M84.3 253.8h1M51.3 258.1h1M87.1 261.4h1M72.1 252.7h1M106.4 258.3h1M62.3 243.0h1M117.2 258.1h1M81.9 257.9h1M121.4 258.8h1M92.5 255.4h1M104.9 258.9h1M75.7 261.4h1M107.5 260.4h1M85.1 254.4h1M118.6 266.8h1M110.8 256.7h1M55.9 257.3h1M98.0 260.5h1M100.2 256.7h1M91.8 256.4h1M110.3 257.0h1M114.6 262.3h1M106.4 257.3h1M67.1 255.2h1M69.0 250.2h1M93.5 248.6h1M122.0 256.9h1M93.1 257.6h1M75.8 261.1h1M50.1 258.5h1M86.3 261.9h1M72.6 253.3h1M86.8 260.3h1M81.1 258.0h1M59.1 256.7h1M119.7 258.7h1M79.4 255.3h1M65.3 257.4h1M106.5 260.9h1M97.9 256.6h1M58.9 251.9h1M102.5 264.3h1M105.2 254.0h1M121.1 256.2h1M85.5 259.6h1M112.0 253.1h1M87.3 255.9h1M83.3 258.1h1M90.8 247.7h1M62.4 255.1h1M58.5 252.9h1M75.2 252.5h1M94.4 261.2h1M67.3 256.8h1M45.5 264.6h1M96.9 254.0h1M76.2 260.0h1M87.4 255.5h1M61.5 249.9h1M96.1 254.8h1M49.7 258.9h1M72.4 255.1h1M49.0 259.6h1M103.7 258.7h1M85.7 257.7h1M123.5 232.7h1M96.0 257.0h1M107.6 257.4h1"/>
<path d="M104.4 258.8h1M87.0 255.7h1M123.3 256.3h1M45.1 279.3h1M91.8 258.5h1M95.6 260.5h1M82.9 253.6h1M50.1 253.9h1M78.8 253.1h1M105.6 259.2h1M59.7 242.0h1M67.4 267.5h1M111.1 252.9h1M71.5 256.2h1M109.4 258.7h1M81.6 257.1h1M119.5 255.6h1M44.4 255.0h1M86.9 239.9h1M109.9 262.1h1M51.6 252.5h1M96.3 253.7h1M104.3 253.3h1M95.1 250.4h1M92.9 253.2h1M104.6 259.1h1M61.5 254.7h1M86.1 250.7h1M83.3 252.9h1M50.3 255.1h1M117.1 259.2h1M49.4 251.0h1M117.0 252.1h1M103.5 252.8h1M91.0 250.4h1M81.1 250.8h1M103.3 259.7h1M97.2 253.0h1M100.4 249.9h1M119.0 259.9h1M51.8 256.0h1M86.4 256.5h1M42.7 248.9h1M80.6 259.2h1M70.6 269.0h1M101.4 254.5h1M96.9 254.5h1M56.1 255.6h1M104.6 261.7h1M126.2 244.6h1M69.9 256.0h1M79.9 260.8h1M54.5 252.4h1M74.5 250.8h1M104.9 255.6h1M74.1 227.2h1M47.8 256.0h1M104.3 263.8h1M56.5 259.6h1M93.5 253.7h1M89.0 254.0h1M58.7 263.8h1M107.9 258.5h1M44.3 256.9h1M95.7 261.8h1M106.6 258.4h1M78.4 259.6h1M114.8 260.4h1M78.7 260.4h1M44.2 252.8h1M60.4 259.7h1M93.4 251.8h1M90.6 257.1h1M79.2 261.8h1M64.0 255.4h1M94.9 257.9h1M51.3 249.4h1M57.2 257.8h1M75.2 268.1h1M96.7 257.7h1M80.2 252.3h1M75.7 253.1h1M76.2 259.4h1M106.1 255.1h1M98.0 256.0h1M71.3 253.7h1M110.7 257.0h1M82.1 257.0h1M81.9 258.0h1M83.8 250.1h1M59.1 259.2h1M116.2 261.5h1M68.0 250.8h1M53.9 256.4h1M93.0 257.3h1M58.1 252.1h1M100.7 258.8h1M78.4 252.1h1M119.3 261.7h1M48.5 261.9h1M92.7 255.3h1M75.9 255.2h1M110.7 255.3h1M66.7 254.0h1M83.6 251.7h1M55.1 259.3h1M89.3 253.3h1M105.5 253.7h1M58.3 252.3h1M96.7 256.3h1M117.3 258.2h1M106.2 256.2h1M88.5 250.6h1M106.5 255.4h1M51.8 258.7h1"/>
<path d="M66.9 257.5h1M56.7 253.2h1M91.8 257.5h1M89.7 258.0h1M131.4 258.0h1M89.7 257.5h1M69.6 257.4h1M93.1 255.0h1M101.7 257.9h1M67.1 249.4h1M117.2 254.2h1M98.1 254.5h1M64.5 255.3h1M71.4 253.5h1M48.4 254.4h1M69.1 264.4h1M94.8 255.1h1M121.6 255.8h1M62.6 254.5h1M89.7 257.0h1M77.3 263.3h1M105.1 257.7h1M93.5 253.0h1M89.7 259.7h1M89.3 242.7h1M75.0 257.6h1M97.0 255.4h1M68.9 262.2h1M115.5 265.4h1M112.6 251.6h1M104.6 263.0h1M78.9 258.6h1M74.0 257.0h1M83.3 259.5h1M112.9 262.0h1M98.9 258.5h1M90.4 260.5h1M85.1 259.2h1M108.3 258.6h1M80.9 252.1h1M113.9 261.4h1M79.0 257.2h1M89.7 256.5h1M48.9 255.4h1M89.9 254.8h1M120.4 259.5h1M90.9 249.9h1M81.9 253.4h1M52.3 249.6h1M83.4 253.4h1M107.1 244.3h1M118.0 261.4h1M81.4 259.4h1M111.1 263.6h1M92.2 269.8h1M108.5 258.2h1M88.9 259.5h1M83.7 256.2h1M93.5 258.7h1M43.3 260.9h1M93.2 255.9h1M103.0 256.2h1M62.6 245.5h1M114.7 263.6h1M95.4 257.4h1M62.7 256.8h1M59.2 258.1h1M114.0 258.1h1M92.0 264.2h1M102.8 262.2h1M76.4 259.7h1M94.5 260.4h1M76.8 248.8h1M127.0 261.4h1M59.3 254.2h1M82.6 259.4h1M121.9 256.9h1M84.8 254.3h1M97.3 252.0h1M87.1 254.0h1M68.8 254.9h1M88.7 247.5h1M52.2 253.3h1M107.0 259.0h1M119.9 241.4h1M80.7 251.7h1M79.7 265.1h1M90.5 257.8h1M118.4 258.2h1M93.5 259.4h1M120.2 255.8h1M122.9 255.8h1M89.4 258.4h1M88.4 259.6h1M72.9 260.8h1M114.1 254.5h1M78.5 261.9h1M86.1 258.1h1M100.5 264.5h1M59.4 252.8h1M85.0 251.9h1M75.5 253.2h1M108.3 256.2h1M82.7 260.0h1M50.5 247.7h1M79.6 252.8h1M73.4 252.0h1M106.8 254.8h1M88.4 256.8h1M62.8 253.5h1M92.0 251.6h1M56.4 253.6h1M117.3 254.7h1M53.9 254.7h1M83.5 256.7h1"/>
<path d="M56.0 256.6h1M88.5 262.5h1M91.0 254.6h1M105.2 255.8h1M63.6 254.8h1M112.1 262.1h1M103.7 256.7h1M89.6 253.5h1M96.0 259.9h1M98.9 256.0h1M76.0 257.7h1M123.7 257.4h1M47.1 258.3h1M88.5 254.0h1M62.3 260.2h1M121.4 256.7h1M55.5 253.7h1M86.6 263.2h1M57.4 253.5h1M65.9 251.8h1M67.1 256.9h1M103.2 253.5h1M103.6 253.2h1M68.5 254.5h1M55.1 250.2h1M84.0 257.3h1M107.9 256.1h1M89.0 260.1h1M90.6 254.0h1M103.0 261.1h1M65.1 258.1h1M84.7 252.1h1M77.3 259.8h1M88.9 261.9h1M120.6 249.6h1M82.4 261.9h1M118.0 259.9h1M116.5 254.6h1M69.1 255.1h1M42.7 258.9h1M119.6 252.6h1M102.1 258.7h1M77.6 258.1h1M93.7 256.7h1M113.3 257.6h1M61.3 260.4h1M97.5 271.4h1M114.8 254.2h1M88.1 258.0h1M77.4 252.5h1M102.3 250.4h1M99.8 253.8h1M74.9 259.6h1M57.5 254.2h1M44.8 248.4h1M46.5 258.2h1M106.1 261.8h1M101.9 261.1h1M115.7 255.8h1M121.4 257.5h1M69.1 270.2h1M64.7 250.8h1M75.7 253.7h1M101.2 257.3h1M77.4 261.9h1M84.2 250.7h1M83.6 257.6h1M75.2 258.0h1M99.9 265.1h1M92.7 259.1h1M106.6 252.9h1M101.9 259.2h1M111.9 255.4h1M57.6 253.1h1M92.3 256.0h1M88.6 255.6h1M111.7 258.7h1M93.8 255.4h1M71.1 260.5h1M59.0 254.6h1M107.1 255.9h1M63.2 257.6h1M96.6 256.0h1M94.6 259.3h1M123.5 255.9h1M82.1 258.7h1M73.1 243.7h1M108.5 256.9h1M58.9 257.4h1M91.3 251.2h1M87.1 251.1h1M65.9 255.1h1M107.9 259.6h1M64.2 260.7h1M64.5 259.0h1M100.5 252.9h1M58.1 253.3h1M109.6 258.9h1M71.4 255.9h1M57.5 257.9h1M84.2 250.1h1M89.9 255.3h1M77.9 260.4h1M105.9 253.3h1M110.6 259.4h1M75.4 255.0h1M113.3 258.0h1M96.1 258.4h1M104.8 260.8h1M82.8 271.9h1M65.1 256.5h1M66.4 252.7h1M72.1 254.3h1M82.7 253.9h1M89.4 252.4h1"/>
</g>
<line x1="27.50" y1="247.80" x2="177.90" y2="247.80" stroke="#bcbcbc" stroke-width="0.9"/>
<line x1="27.50" y1="260.50" x2="177.90" y2="260.50" stroke="#bcbcbc" stroke-width="0.9"/>
<line x1="27.50" y1="254.70" x2="177.90" y2="254.70" stroke="#727272" stroke-width="1.6"/>
<clipPath id="ci"><rect x="27.50" y="183.40" width="150.40" height="142.00"/></clipPath>
<g clip-path="url(#ci)" fill="none" stroke-linecap="round">
<path d="M33.90,254.00 L34.90,253.86 L35.90,253.73 L36.90,253.62 L37.90,253.51 L38.90,253.41 L39.90,253.33 L40.90,253.25 L41.90,253.18 L42.90,253.11 L43.90,253.05 L44.90,253.00 L45.90,252.96 L46.90,252.92 L47.90,252.88 L48.90,252.85 L49.90,252.82 L50.90,252.80 L51.90,252.78 L52.90,252.76 L53.90,252.74 L54.90,252.73 L55.90,252.72 L56.90,252.71 L57.90,252.71 L58.90,252.70 L59.90,252.69 L60.90,252.69 L61.90,252.69 L62.90,252.68 L63.90,252.68 L64.90,252.68 L65.90,252.68 L66.90,252.68 L67.90,252.67 L68.90,252.67 L69.90,252.67 L70.90,252.67 L71.90,252.66 L72.90,252.66 L73.90,252.65 L74.90,252.65 L75.90,252.64 L76.90,252.63 L77.90,252.63 L78.90,252.62 L79.90,252.61 L80.90,252.60 L81.90,252.58 L82.90,252.57 L83.90,252.56 L84.90,252.54 L85.90,252.53 L86.90,252.51 L87.90,252.49 L88.90,252.48 L89.90,252.46 L90.90,252.44 L91.90,252.41 L92.90,252.39 L93.90,252.37 L94.90,252.35 L95.90,252.32 L96.90,252.29 L97.90,252.27 L98.90,252.24 L99.90,252.21 L100.90,252.18 L101.90,252.15 L102.90,252.12 L103.90,252.09 L104.90,252.06 L105.90,252.02 L106.90,251.99 L107.90,251.95 L108.90,251.92 L109.90,251.88 L110.90,251.84 L111.90,251.80 L112.90,251.76 L113.90,251.72 L114.90,251.68 L115.90,251.64 L116.90,251.59 L117.90,251.55 L118.90,251.50 L119.90,251.45 L120.90,251.40 L121.90,251.35 L122.90,251.29 L123.90,251.24 L124.90,251.18 L125.90,251.12 L126.90,251.06 L127.90,251.00 L128.90,250.94 L129.90,250.87 L130.90,250.80 L131.90,250.73 L132.90,250.65 L133.90,250.57 L134.90,250.49 L135.90,250.41 L136.90,250.32 L137.90,250.23 L138.90,250.14 L139.90,250.04 L140.90,249.94 L141.90,249.83 L142.90,249.72 L143.90,249.61 L144.90,249.49 L145.90,249.36 L146.90,249.23 L147.90,249.10 L148.90,248.96 L149.90,248.81 L150.90,248.66 L151.90,248.50 L152.90,248.34 L153.90,248.16 L154.90,247.99 L155.90,247.80 L156.90,247.61 L157.90,247.40 L158.90,247.20 L159.90,246.98 L160.90,246.75 L161.90,246.52 L162.90,246.27 L163.90,246.02 L164.90,245.76 L165.90,245.49 L166.90,245.21 L167.90,244.91 L168.90,244.61 L169.90,244.29 L170.90,243.97 L171.40,243.80" stroke="#ea8a40" stroke-width="1.45" stroke-linejoin="round"/>
<path d="M33.90,254.00 L34.90,254.01 L35.90,254.02 L36.90,254.02 L37.90,254.03 L38.90,254.04 L39.90,254.05 L40.90,254.06 L41.90,254.07 L42.90,254.08 L43.90,254.09 L44.90,254.10 L45.90,254.11 L46.90,254.12 L47.90,254.14 L48.90,254.15 L49.90,254.16 L50.90,254.17 L51.90,254.19 L52.90,254.20 L53.90,254.21 L54.90,254.23 L55.90,254.24 L56.90,254.25 L57.90,254.27 L58.90,254.28 L59.90,254.30 L60.90,254.31 L61.90,254.33 L62.90,254.34 L63.90,254.36 L64.90,254.38 L65.90,254.39 L66.90,254.41 L67.90,254.42 L68.90,254.44 L69.90,254.46 L70.90,254.47 L71.90,254.49 L72.90,254.51 L73.90,254.52 L74.90,254.54 L75.90,254.56 L76.90,254.58 L77.90,254.59 L78.90,254.61 L79.90,254.63 L80.90,254.65 L81.90,254.67 L82.90,254.68 L83.90,254.70 L84.90,254.72 L85.90,254.74 L86.90,254.76 L87.90,254.78 L88.90,254.79 L89.90,254.81 L90.90,254.83 L91.90,254.85 L92.90,254.87 L93.90,254.89 L94.90,254.91 L95.90,254.92 L96.90,254.94 L97.90,254.96 L98.90,254.98 L99.90,255.00 L100.90,255.02 L101.90,255.04 L102.90,255.05 L103.90,255.07 L104.90,255.09 L105.90,255.11 L106.90,255.13 L107.90,255.14 L108.90,255.16 L109.90,255.18 L110.90,255.20 L111.90,255.22 L112.90,255.23 L113.90,255.25 L114.90,255.27 L115.90,255.29 L116.90,255.30 L117.90,255.32 L118.90,255.34 L119.90,255.35 L120.90,255.37 L121.90,255.39 L122.90,255.40 L123.90,255.42 L124.90,255.44 L125.90,255.45 L126.90,255.47 L127.90,255.48 L128.90,255.50 L129.90,255.51 L130.90,255.53 L131.90,255.54 L132.90,255.56 L133.90,255.57 L134.90,255.58 L135.90,255.60 L136.00,255.60" stroke="#2a36b4" stroke-width="1.6" stroke-linejoin="round"/>
</g>
<rect x="27.50" y="183.40" width="150.40" height="142.00" fill="none" stroke="#9a9a9a" stroke-width="0.9"/>
</g>
<g>
<line x1="199.50" y1="183.40" x2="349.20" y2="183.40" stroke="#e4e4e4" stroke-width="0.8"/>
<line x1="199.50" y1="207.07" x2="349.20" y2="207.07" stroke="#e4e4e4" stroke-width="0.8"/>
<line x1="199.50" y1="230.73" x2="349.20" y2="230.73" stroke="#e4e4e4" stroke-width="0.8"/>
<line x1="199.50" y1="254.40" x2="349.20" y2="254.40" stroke="#e4e4e4" stroke-width="0.8"/>
<line x1="199.50" y1="278.07" x2="349.20" y2="278.07" stroke="#e4e4e4" stroke-width="0.8"/>
<line x1="199.50" y1="301.73" x2="349.20" y2="301.73" stroke="#e4e4e4" stroke-width="0.8"/>
<line x1="199.50" y1="325.40" x2="349.20" y2="325.40" stroke="#e4e4e4" stroke-width="0.8"/>
<line x1="209.40" y1="183.40" x2="209.40" y2="325.40" stroke="#e4e4e4" stroke-width="0.8"/>
<line x1="251.00" y1="183.40" x2="251.00" y2="325.40" stroke="#e4e4e4" stroke-width="0.8"/>
<line x1="292.60" y1="183.40" x2="292.60" y2="325.40" stroke="#e4e4e4" stroke-width="0.8"/>
<line x1="334.20" y1="183.40" x2="334.20" y2="325.40" stroke="#e4e4e4" stroke-width="0.8"/>
<g fill="none" stroke="#f39a50" stroke-width="0.9" stroke-opacity="0.30">
<path d="M259.5 261.0h1M259.6 259.8h1M230.8 249.0h1M223.8 252.5h1M258.6 257.0h1M251.4 261.1h1M290.6 259.0h1M219.7 257.9h1M279.1 249.1h1M291.8 255.3h1M229.9 255.9h1M272.5 247.7h1M282.8 258.0h1M272.9 253.0h1M279.0 251.2h1M258.5 249.7h1M227.3 250.1h1M217.2 249.9h1M252.7 246.7h1M291.9 252.8h1M292.4 257.3h1M261.0 256.3h1M245.6 254.0h1M280.1 257.5h1M279.8 253.8h1M291.5 258.4h1M221.4 253.4h1M265.8 257.3h1M277.7 259.0h1M240.6 248.6h1M281.3 255.1h1M239.2 251.5h1M283.2 255.5h1M232.1 248.0h1M288.5 262.2h1M252.0 252.1h1M290.2 256.5h1M283.3 263.9h1M243.1 254.7h1M266.3 250.9h1M263.5 241.6h1M257.5 252.9h1M239.0 260.0h1M256.8 259.6h1M278.7 253.4h1M243.1 257.6h1M277.9 257.1h1M226.0 250.6h1M304.2 253.5h1M264.6 250.7h1M258.4 264.2h1M265.0 249.2h1M232.5 252.6h1M251.0 248.6h1M222.8 252.9h1M256.1 255.3h1M248.8 253.6h1M278.1 256.9h1M233.6 254.4h1M294.1 248.9h1M234.0 245.9h1M270.7 260.0h1M228.5 254.3h1M251.4 254.2h1M243.8 251.3h1M284.2 260.2h1M265.2 261.0h1M269.6 251.5h1M292.6 281.4h1M263.4 250.2h1M244.1 251.5h1M290.6 252.4h1M292.7 256.4h1M214.9 251.5h1M291.3 255.7h1M257.9 255.9h1M243.1 254.6h1M281.6 261.8h1M257.2 258.8h1M220.0 248.8h1M255.8 255.7h1M236.7 248.2h1M299.4 258.2h1M265.0 252.2h1M282.0 253.9h1M250.3 251.1h1M272.4 260.0h1M257.1 255.9h1M276.3 252.5h1M261.6 251.1h1M219.0 255.5h1M245.5 261.1h1M284.9 260.9h1M289.9 262.5h1M244.4 263.2h1M275.0 252.6h1M274.9 257.4h1M221.4 248.4h1M246.9 254.5h1M263.1 228.5h1M258.1 251.1h1M253.8 254.4h1M232.5 254.3h1M233.1 253.0h1M227.8 258.6h1M239.5 255.3h1M297.7 261.7h1M265.6 253.3h1M261.0 253.3h1M224.0 253.4h1M223.4 243.3h1M253.2 257.7h1M264.7 255.4h1M235.5 252.7h1M249.1 254.9h1M260.0 263.0h1M291.4 259.4h1"/>
<path d="M233.2 229.7h1M242.9 237.6h1M263.2 259.7h1M251.9 253.8h1M259.1 254.2h1M224.2 252.5h1M258.1 253.7h1M277.7 249.6h1M256.5 264.0h1M218.3 255.7h1M285.8 240.9h1M238.8 251.1h1M265.8 256.6h1M277.5 252.4h1M273.9 255.1h1M250.4 259.9h1M288.4 251.9h1M284.1 259.0h1M286.6 251.5h1M230.4 253.0h1M221.3 254.0h1M250.9 271.6h1M274.8 245.1h1M285.2 258.8h1M264.7 250.8h1M257.1 257.3h1M280.5 250.8h1M259.5 249.4h1M255.7 253.6h1M246.0 249.0h1M235.3 261.8h1M241.5 250.6h1M279.1 251.0h1M266.2 258.0h1M276.1 255.3h1M282.1 257.8h1M217.9 248.0h1M292.9 255.8h1M243.9 251.5h1M255.5 252.0h1M280.3 259.3h1M283.6 248.9h1M261.5 256.4h1M246.9 251.3h1M285.1 257.7h1M255.9 248.4h1M282.6 255.3h1M239.0 245.9h1M281.9 255.1h1M248.9 254.5h1M253.9 249.6h1M243.2 258.7h1M220.7 242.3h1M224.9 254.3h1M279.3 259.7h1M259.7 258.3h1M257.0 251.8h1M260.9 249.0h1M282.4 256.8h1M292.4 259.1h1M232.9 262.8h1M250.2 258.3h1M234.1 251.1h1M246.5 261.2h1M248.3 252.8h1M280.7 256.8h1M231.4 250.6h1M259.9 259.6h1M219.3 244.6h1M273.8 254.8h1M266.8 255.6h1M247.1 235.8h1M271.3 259.5h1M266.2 249.7h1M284.0 251.8h1M279.2 255.1h1M238.6 252.7h1M221.1 254.3h1M286.7 255.7h1M271.8 254.5h1M232.3 252.3h1M235.6 238.1h1M275.1 255.8h1M248.6 257.3h1M247.0 253.1h1M269.4 262.0h1M254.7 252.0h1M280.4 260.8h1M241.3 247.0h1M277.2 260.1h1M265.7 253.8h1M275.2 258.5h1M259.8 250.5h1M249.3 277.5h1M235.8 251.6h1M229.1 253.8h1M286.3 257.6h1M293.7 255.2h1M250.6 246.6h1M274.9 256.8h1M271.6 256.5h1M268.3 249.6h1M250.0 252.8h1M264.8 257.1h1M283.7 251.6h1M274.3 258.0h1M288.0 260.6h1M277.7 254.3h1M236.7 249.8h1M270.4 250.7h1M277.9 257.8h1M239.1 239.0h1M233.6 247.1h1M258.7 253.7h1M278.0 256.1h1M285.3 268.9h1"/>
<path d="M246.1 252.9h1M232.4 254.2h1M265.5 249.7h1M260.2 251.2h1M262.8 254.7h1M259.2 261.1h1M237.5 253.2h1M278.3 257.9h1M278.5 272.3h1M275.2 257.2h1M276.5 253.0h1M219.8 251.7h1M237.9 255.1h1M271.4 254.4h1M256.0 252.0h1M252.1 251.3h1M252.8 252.0h1M281.2 265.2h1M266.6 254.7h1M279.4 252.7h1M269.8 264.3h1M294.0 258.5h1M288.1 258.6h1M263.3 255.8h1M252.0 248.4h1M256.7 257.9h1M234.6 247.8h1M281.4 252.9h1M276.4 249.2h1M271.6 258.4h1M244.8 248.5h1M252.4 248.3h1M261.6 255.0h1M237.9 244.7h1M221.3 252.3h1M237.7 242.8h1M261.9 252.0h1M265.5 237.3h1M290.3 249.6h1M304.2 255.3h1M261.9 251.0h1M256.4 257.5h1M229.8 257.8h1M290.5 256.5h1M255.7 253.3h1M261.6 252.7h1M293.5 245.8h1M274.0 251.5h1M259.7 257.0h1M222.7 252.4h1M262.9 252.0h1M255.8 257.2h1M238.1 261.9h1M242.2 254.2h1M226.4 254.2h1M271.8 252.9h1M237.7 250.5h1M219.5 258.8h1M277.6 254.3h1M263.4 268.0h1M256.3 250.5h1M257.6 251.9h1M293.8 259.6h1M273.1 256.0h1M240.6 250.0h1M262.1 257.3h1M251.8 251.8h1M251.5 256.6h1M263.7 251.1h1M291.9 256.3h1M273.3 251.0h1M283.9 258.0h1M277.6 246.8h1M271.7 250.6h1M269.4 256.5h1M257.1 270.0h1M293.3 255.0h1M256.2 273.9h1M233.4 255.3h1M297.3 256.1h1M271.7 256.2h1M255.4 252.7h1M241.5 253.8h1M215.4 249.8h1M248.0 255.8h1M246.8 246.9h1M289.4 263.7h1M276.1 256.9h1M255.4 250.5h1M263.7 249.3h1M271.9 260.9h1M231.1 257.1h1M214.5 259.6h1M286.6 260.8h1M235.3 249.3h1M253.7 258.7h1M278.0 251.3h1M253.4 251.8h1M281.4 258.2h1M269.7 252.6h1M276.9 261.1h1M217.7 247.1h1M264.8 258.8h1M252.1 259.2h1M262.3 249.5h1M264.6 253.5h1M291.2 254.8h1M265.2 226.7h1M276.6 253.3h1M264.3 259.7h1M217.9 253.4h1M232.3 253.0h1M224.3 251.8h1M269.6 254.8h1M292.2 259.9h1M279.7 258.9h1"/>
<path d="M246.9 255.2h1M298.8 254.5h1M273.9 259.3h1M227.4 243.9h1M291.8 272.4h1M225.1 249.6h1M258.9 260.7h1M282.6 254.1h1M251.5 249.9h1M288.2 260.8h1M221.4 249.2h1M252.4 253.6h1M270.6 255.1h1M246.7 254.5h1M231.0 251.3h1M229.9 256.3h1M256.7 251.4h1M271.9 249.2h1M290.3 250.7h1M254.2 254.2h1M249.3 251.2h1M258.0 253.6h1M255.0 249.6h1M289.2 258.4h1M283.9 257.3h1M256.1 275.5h1M256.1 249.3h1M224.2 253.8h1M232.9 245.6h1M279.9 256.1h1M223.5 255.2h1M239.3 260.5h1M258.1 263.4h1M219.2 257.2h1M247.8 258.9h1M218.6 249.7h1M277.8 253.8h1M292.3 254.7h1M259.2 254.9h1M217.6 258.6h1M249.1 252.3h1M262.5 257.9h1M283.1 253.4h1M262.1 257.8h1M262.9 253.3h1M258.0 257.7h1M255.1 261.7h1M255.8 246.0h1M237.3 240.8h1M244.1 258.1h1M230.2 253.7h1M264.9 256.1h1M280.8 238.0h1M269.2 257.8h1M248.3 244.8h1M272.5 253.4h1M227.4 247.2h1M233.3 256.5h1M259.1 257.2h1M264.3 258.3h1M279.6 262.6h1M273.1 253.3h1M298.2 258.5h1M283.3 255.3h1M284.7 272.9h1M275.2 257.0h1M255.5 254.4h1M224.8 247.2h1M216.6 248.9h1M270.3 264.0h1M219.0 253.9h1M276.0 254.1h1M232.4 248.3h1M283.4 260.6h1M262.0 251.1h1M275.2 255.9h1M274.0 253.8h1M279.1 250.0h1M247.4 256.4h1M262.8 249.7h1M259.7 247.2h1M255.9 250.8h1M270.2 256.9h1M250.1 255.7h1M237.1 251.1h1M231.6 256.8h1M260.8 253.1h1M269.8 258.0h1M270.0 253.4h1M290.1 250.2h1M282.9 255.4h1M228.6 247.7h1M288.8 256.2h1M277.0 256.7h1M298.4 253.4h1M260.7 265.5h1M237.0 248.8h1M274.7 258.0h1M221.2 252.1h1M259.0 255.2h1M283.1 255.5h1M263.2 258.8h1M264.5 255.2h1M280.7 258.6h1M291.0 237.4h1M274.5 255.2h1M216.5 254.2h1M268.5 250.8h1M277.8 263.7h1M243.7 254.8h1M221.7 256.0h1M214.9 251.9h1M225.7 250.0h1M257.2 249.3h1M283.5 251.3h1M241.2 259.9h1"/>
<path d="M257.2 254.8h1M241.8 248.2h1M271.9 255.0h1M266.8 255.6h1M272.7 256.8h1M295.0 253.8h1M251.7 257.2h1M267.5 245.6h1M278.2 264.4h1M249.2 253.6h1M220.9 255.7h1M216.1 254.5h1M230.3 254.5h1M283.2 254.2h1M244.9 260.7h1M261.9 250.4h1M255.0 251.8h1M277.2 255.3h1M266.5 251.7h1M275.4 258.2h1M238.3 251.9h1M292.0 255.1h1M268.3 254.1h1M244.0 250.1h1M238.9 251.4h1M262.3 255.7h1M252.6 261.3h1M264.7 264.1h1M253.5 258.2h1M244.4 254.9h1M243.4 258.4h1M232.8 252.9h1M271.4 257.4h1M236.6 262.3h1M274.8 245.5h1M237.2 259.0h1M281.4 260.0h1M265.1 249.0h1M277.0 253.4h1M266.3 252.0h1M250.2 252.1h1M271.4 259.1h1M264.0 255.8h1M216.7 258.2h1M271.5 252.2h1M277.7 254.4h1M260.7 250.3h1M229.8 267.7h1M276.5 265.0h1M293.6 252.9h1M274.5 266.1h1M282.2 252.3h1M290.2 255.4h1M290.2 261.5h1M280.1 257.5h1M251.8 247.4h1M251.5 265.5h1M250.5 254.3h1M257.2 248.1h1M239.1 252.2h1M260.1 247.9h1M217.8 250.3h1M274.6 250.6h1M225.0 250.0h1M253.5 259.6h1M270.3 260.5h1M286.6 248.3h1M221.5 263.1h1M224.1 253.3h1M261.0 252.2h1M268.6 260.0h1M284.4 259.9h1M233.3 251.4h1M247.0 251.5h1M270.9 257.1h1M266.8 255.7h1M255.3 256.2h1M228.6 252.2h1M276.2 259.8h1M252.4 258.8h1M275.7 260.1h1M281.8 257.3h1M252.3 249.9h1M285.9 254.9h1M282.0 262.9h1M239.3 251.5h1M289.2 250.9h1M285.5 256.2h1M257.2 252.1h1M231.4 250.4h1M289.7 249.3h1M247.8 255.6h1M259.1 250.2h1M255.6 257.8h1M277.1 253.0h1M247.2 252.3h1M256.9 252.7h1M259.7 252.9h1M241.8 252.6h1M290.3 258.3h1M285.1 258.3h1M278.5 256.1h1M281.5 256.2h1M291.6 256.3h1M224.0 247.8h1M269.2 254.4h1M252.8 252.7h1M265.2 252.1h1M268.9 254.8h1M270.1 257.9h1M230.9 251.1h1M258.3 253.8h1M281.3 255.8h1M243.6 249.7h1M259.5 250.2h1M214.3 243.9h1"/>
<path d="M235.0 259.8h1M286.0 253.3h1M214.2 246.6h1M271.3 261.6h1M275.7 255.7h1M289.3 260.6h1M279.1 247.3h1M255.7 255.9h1M251.7 253.7h1M278.6 257.3h1M277.1 254.9h1M271.0 250.7h1M239.2 249.3h1M222.9 255.9h1M247.4 249.6h1M238.9 249.5h1M245.7 253.5h1M248.9 247.9h1M246.8 259.9h1M285.6 254.6h1M264.0 250.8h1M243.3 252.3h1M248.3 256.5h1M267.4 258.3h1M265.8 253.4h1M218.9 251.9h1M250.2 252.8h1M236.7 250.3h1M244.9 249.3h1M283.9 261.4h1M263.8 253.5h1M236.1 252.0h1M272.0 251.9h1M291.1 256.6h1M238.6 257.3h1M282.7 255.3h1M237.0 248.6h1M217.3 250.4h1M279.2 261.5h1M275.4 255.8h1M256.4 245.1h1M243.0 249.2h1M252.5 246.6h1M274.1 252.9h1M279.2 254.1h1M281.3 254.5h1M261.1 257.4h1M270.1 256.8h1M223.9 254.8h1M251.5 255.5h1M273.7 259.9h1M275.8 254.9h1M258.6 252.0h1M230.5 252.6h1M238.8 254.7h1M264.7 254.2h1M218.1 263.3h1M247.6 258.4h1M274.0 267.4h1M223.3 251.6h1M244.5 250.3h1M281.8 259.8h1M288.0 258.7h1M279.8 255.4h1M238.3 248.9h1M292.2 253.1h1M275.6 256.6h1M293.1 258.9h1M287.3 258.9h1M276.4 253.6h1M265.2 252.5h1M275.3 249.9h1M229.9 255.0h1M260.3 250.6h1M235.0 248.3h1M251.1 255.4h1M231.2 255.5h1M258.4 254.8h1M220.4 254.1h1M252.5 254.8h1M273.6 257.4h1M238.7 252.4h1M224.5 251.5h1M217.9 254.8h1M292.4 257.7h1M247.5 248.5h1M262.5 245.7h1M242.4 249.3h1M259.3 254.9h1M278.8 247.1h1M292.8 259.8h1M241.9 249.1h1M298.1 255.5h1M228.3 251.4h1M262.7 254.9h1M253.3 250.6h1M244.0 242.8h1M250.0 250.3h1M271.0 250.1h1M296.9 251.6h1M234.3 252.8h1M276.1 260.9h1M304.2 258.1h1M268.2 254.0h1M246.6 243.6h1M254.8 246.0h1M261.4 256.6h1M248.3 246.7h1M228.5 247.9h1M241.7 251.9h1M266.0 265.2h1M288.7 250.5h1M262.0 255.3h1M239.9 247.7h1M252.2 249.4h1M269.5 259.3h1"/>
</g>
<g fill="none" stroke="#6458d8" stroke-width="0.9" stroke-opacity="0.52">
<path d="M274.8 259.6h1M272.6 260.0h1M275.0 254.4h1M232.6 251.2h1M299.6 260.3h1M253.3 254.1h1M244.0 257.4h1M260.5 251.6h1M272.1 258.0h1M300.4 254.4h1M254.5 256.8h1M283.0 256.4h1M260.1 256.9h1M291.2 257.7h1M286.8 265.8h1M256.9 254.5h1M255.6 252.2h1M245.5 255.8h1M228.0 253.7h1M244.7 251.0h1M246.9 251.0h1M239.1 258.0h1M249.2 255.0h1M263.6 254.1h1M295.4 278.3h1M256.6 254.3h1M291.4 255.5h1M218.9 250.7h1M272.3 260.3h1M217.2 255.0h1M248.1 259.0h1M292.6 260.3h1M283.0 255.9h1M265.5 260.6h1M228.6 258.6h1M257.6 235.6h1M243.0 256.0h1M280.7 247.2h1M265.7 250.2h1M265.8 261.3h1M275.4 254.3h1M260.9 254.2h1M219.5 262.5h1M235.1 253.4h1M223.4 251.4h1M240.5 253.3h1M259.2 250.3h1M277.5 257.0h1M227.5 249.6h1M234.8 255.1h1M246.4 254.7h1M269.3 255.3h1M256.9 258.7h1M268.6 235.0h1M231.2 258.6h1M245.5 257.2h1M256.6 256.5h1M274.5 250.0h1M265.1 251.8h1M262.4 253.0h1M290.3 250.5h1M265.7 257.1h1M251.4 253.5h1M271.1 247.7h1M256.1 252.5h1M227.9 257.7h1M277.0 258.8h1M249.9 256.3h1M214.2 250.5h1M228.5 254.4h1M263.9 257.5h1M259.9 257.5h1M251.5 248.5h1M274.8 258.8h1M228.2 253.7h1M222.2 250.9h1M232.4 252.1h1M229.5 259.2h1M259.2 252.2h1M288.0 251.1h1M275.8 257.0h1M257.0 255.7h1M241.1 252.4h1M251.6 259.2h1M256.3 239.6h1M285.3 257.2h1M214.3 250.6h1M259.1 258.0h1M255.8 250.1h1M228.8 252.6h1M240.9 256.5h1M235.4 257.2h1M268.5 258.2h1M255.4 252.7h1M246.4 256.0h1M238.7 251.1h1M264.3 256.6h1M263.9 262.5h1M273.3 253.3h1M238.7 251.9h1M258.7 253.3h1M256.9 262.3h1M253.8 253.5h1M247.0 263.5h1M235.9 258.7h1M249.9 253.2h1M247.6 252.3h1M260.7 257.7h1M244.8 256.3h1M282.5 254.8h1M294.1 251.3h1M249.8 254.5h1M231.8 254.7h1M272.7 249.0h1M281.0 256.9h1M240.1 251.2h1"/>
<path d="M241.8 269.8h1M273.8 251.3h1M271.2 258.5h1M239.0 250.7h1M290.4 253.2h1M274.4 255.6h1M256.6 254.2h1M258.3 252.7h1M276.0 250.1h1M270.6 260.3h1M276.5 258.3h1M234.3 253.2h1M260.2 258.7h1M249.7 259.9h1M237.9 251.3h1M276.3 253.9h1M261.6 255.4h1M260.9 258.4h1M286.1 258.3h1M268.8 258.8h1M234.3 252.2h1M281.1 253.8h1M220.5 251.4h1M280.5 261.8h1M228.3 256.8h1M247.1 259.6h1M260.0 251.7h1M246.4 236.3h1M241.4 256.6h1M252.2 258.7h1M250.5 256.3h1M278.5 252.5h1M253.0 276.2h1M273.2 257.9h1M276.2 247.6h1M230.7 255.7h1M238.6 257.7h1M254.4 252.3h1M221.2 251.0h1M287.0 252.9h1M279.8 254.2h1M253.4 256.4h1M267.7 251.0h1M270.6 256.4h1M263.9 256.3h1M266.9 256.8h1M279.2 250.2h1M290.5 257.4h1M214.8 254.7h1M281.6 247.8h1M255.7 259.5h1M267.8 254.5h1M293.0 258.0h1M216.3 249.6h1M223.4 252.1h1M236.3 250.2h1M222.9 259.4h1M241.7 260.8h1M278.1 258.8h1M272.1 249.5h1M218.8 261.2h1M221.5 263.1h1M246.2 255.2h1M267.3 250.4h1M290.8 256.1h1M215.8 252.1h1M281.9 251.4h1M276.5 252.5h1M275.9 257.2h1M261.6 257.9h1M251.3 256.1h1M255.3 255.5h1M262.1 257.1h1M228.8 254.6h1M288.4 253.4h1M216.8 251.6h1M292.4 255.5h1M249.5 256.9h1M245.0 254.6h1M253.9 255.1h1M281.7 253.4h1M274.0 253.4h1M276.7 256.4h1M280.0 261.2h1M279.4 256.7h1M277.9 254.3h1M250.2 252.7h1M269.8 255.3h1M280.4 257.3h1M266.1 252.8h1M267.6 258.6h1M244.4 257.9h1M275.9 255.3h1M282.3 269.5h1M252.8 247.4h1M268.7 237.0h1M229.9 254.5h1M288.1 254.9h1M260.1 260.5h1M236.7 260.6h1M233.3 254.3h1M293.3 258.5h1M291.6 258.3h1M243.5 251.8h1M214.4 255.4h1M242.4 240.7h1M250.4 256.1h1M253.2 253.3h1M222.2 254.9h1M253.9 263.6h1M234.9 262.8h1M288.1 253.9h1M291.4 257.0h1M282.7 267.9h1M275.3 255.7h1M254.2 258.6h1"/>
<path d="M286.3 255.5h1M288.0 257.9h1M276.8 256.5h1M278.1 255.9h1M235.0 250.5h1M264.4 261.5h1M225.4 254.0h1M221.1 256.6h1M260.3 262.2h1M254.6 258.8h1M228.2 252.8h1M293.6 267.5h1M240.1 237.3h1M263.7 250.5h1M225.9 252.1h1M265.2 259.1h1M251.0 254.2h1M241.2 256.6h1M258.8 255.4h1M263.4 256.3h1M262.7 256.5h1M240.0 268.4h1M260.3 252.5h1M235.8 259.5h1M222.7 255.0h1M287.9 254.7h1M230.9 273.0h1M282.8 258.0h1M297.3 258.4h1M235.6 254.4h1M221.0 254.9h1M249.6 259.6h1M285.7 269.4h1M271.3 255.0h1M232.1 254.2h1M288.9 255.3h1M222.8 257.0h1M279.4 259.4h1M269.5 257.4h1M243.0 255.5h1M282.3 255.2h1M247.6 250.4h1M289.3 259.5h1M255.0 253.8h1M271.8 259.5h1M253.3 255.3h1M233.4 259.6h1M254.3 257.5h1M289.8 251.7h1M258.1 261.9h1M227.0 261.3h1M285.9 263.4h1M219.6 256.6h1M290.5 259.4h1M240.7 262.8h1M254.1 257.5h1M233.3 255.0h1M238.0 250.3h1M272.1 252.3h1M279.1 255.0h1M225.7 255.3h1M272.5 263.6h1M256.3 253.5h1M247.3 261.0h1M292.0 256.2h1M215.7 262.7h1M263.8 248.8h1M276.5 266.1h1M232.3 249.2h1M239.8 254.9h1M230.3 253.5h1M266.8 260.7h1M267.5 253.4h1M300.0 270.8h1M252.5 254.7h1M236.6 252.5h1M267.9 258.8h1M292.9 264.3h1M239.9 249.6h1M253.8 256.3h1M283.6 273.7h1M258.5 253.4h1M255.8 253.4h1M228.3 264.1h1M290.5 260.9h1M257.3 268.8h1M282.4 265.0h1M221.0 252.3h1M288.6 235.7h1M269.8 256.8h1M251.5 258.2h1M272.6 255.9h1M272.0 259.4h1M235.1 256.3h1M245.2 260.0h1M229.0 254.8h1M287.3 259.3h1M257.0 255.8h1M236.2 256.5h1M276.6 250.2h1M254.4 256.1h1M242.0 260.5h1M240.2 254.5h1M242.7 252.1h1M275.4 258.0h1M274.5 253.2h1M283.5 259.1h1M234.9 250.1h1M262.7 254.2h1M229.2 269.6h1M261.3 252.3h1M245.7 249.6h1M252.9 260.5h1M290.2 253.5h1M228.2 255.9h1M241.9 271.2h1"/>
<path d="M239.2 255.4h1M262.6 252.9h1M284.6 250.8h1M219.7 244.7h1M220.4 252.1h1M282.6 270.3h1M254.6 259.3h1M263.4 255.8h1M261.2 254.5h1M250.5 257.6h1M270.8 251.5h1M235.7 257.5h1M260.1 252.1h1M261.4 253.0h1M268.4 254.7h1M254.3 252.7h1M245.4 259.7h1M267.7 258.3h1M284.2 252.6h1M244.8 254.2h1M268.0 250.2h1M234.6 245.2h1M281.7 256.8h1M252.6 253.2h1M230.2 249.6h1M296.6 255.9h1M263.5 253.9h1M259.5 262.6h1M265.6 255.2h1M226.3 257.9h1M240.5 248.7h1M290.1 250.1h1M224.0 252.8h1M283.7 240.1h1M292.0 256.9h1M277.1 251.1h1M220.3 249.7h1M217.8 251.0h1M255.7 252.0h1M252.7 258.6h1M286.8 257.1h1M247.9 250.5h1M234.6 261.1h1M260.4 256.5h1M287.0 251.1h1M266.8 251.6h1M245.7 249.1h1M280.4 256.5h1M268.8 253.5h1M285.2 253.2h1M258.0 260.4h1M245.6 256.5h1M293.5 258.2h1M275.0 257.7h1M259.9 250.4h1M301.8 258.6h1M246.9 235.0h1M215.3 252.9h1M236.4 255.2h1M256.7 249.6h1M218.9 250.4h1M270.4 251.3h1M279.7 253.4h1M288.3 252.6h1M292.1 259.8h1M300.2 258.2h1M276.3 256.4h1M278.7 262.0h1M223.6 250.2h1M214.5 256.6h1M224.4 258.1h1M282.5 255.6h1M284.7 258.2h1M215.8 249.1h1M270.5 255.3h1M279.1 258.5h1M280.7 253.5h1M238.7 255.3h1M263.0 251.1h1M263.9 257.4h1M246.0 253.3h1M255.4 258.3h1M278.2 257.6h1M242.6 265.4h1M267.0 257.2h1M270.7 256.8h1M227.4 260.4h1M242.0 258.6h1M265.6 255.3h1M277.5 260.0h1M215.3 253.2h1M277.8 262.1h1M266.9 255.4h1M248.4 253.1h1M266.3 257.8h1M256.4 258.5h1M259.5 251.8h1M234.0 259.5h1M284.0 257.8h1M282.7 252.5h1M275.9 253.3h1M278.8 258.8h1M222.3 250.6h1M278.9 256.8h1M275.7 257.5h1M225.3 255.2h1M290.3 257.7h1M276.0 250.2h1M222.5 258.9h1M251.7 253.6h1M269.1 256.0h1M269.9 256.7h1M287.8 253.2h1M247.1 253.9h1M243.2 262.6h1M245.9 256.3h1"/>
<path d="M284.8 269.7h1M241.7 258.3h1M272.8 258.7h1M258.0 262.0h1M293.8 257.1h1M249.2 258.4h1M250.3 257.0h1M240.0 264.0h1M257.4 273.0h1M228.0 255.7h1M228.4 261.0h1M243.0 260.0h1M266.4 248.3h1M288.2 250.7h1M250.5 258.6h1M262.3 258.4h1M266.5 249.7h1M288.7 256.1h1M266.8 255.0h1M260.5 242.8h1M231.9 254.0h1M266.1 232.5h1M273.8 259.7h1M292.5 254.7h1M246.6 255.6h1M272.3 261.8h1M292.3 260.4h1M221.9 261.4h1M249.8 263.5h1M240.9 259.1h1M232.4 250.7h1M247.6 248.9h1M286.2 260.2h1M275.4 250.0h1M285.8 256.3h1M263.8 265.7h1M269.3 254.2h1M275.9 240.5h1M246.1 259.1h1M292.7 259.9h1M260.2 254.5h1M281.0 264.5h1M272.3 253.4h1M258.3 262.2h1M220.0 253.1h1M264.1 251.9h1M228.6 231.9h1M288.3 259.3h1M276.0 259.0h1M285.4 253.3h1M250.9 257.6h1M249.7 253.7h1M278.3 258.7h1M257.4 251.8h1M233.0 245.0h1M279.6 255.6h1M251.3 253.1h1M267.1 251.2h1M254.2 254.6h1M266.4 252.3h1M280.9 256.1h1M221.3 251.6h1M269.6 256.9h1M263.8 259.4h1M277.3 249.2h1M295.5 258.8h1M229.3 253.5h1M247.1 253.6h1M270.4 251.6h1M282.3 254.2h1M293.3 255.5h1M281.7 255.1h1M275.6 255.6h1M269.7 257.3h1M220.4 251.4h1M264.9 257.2h1M261.8 261.9h1M274.9 259.6h1M260.5 244.2h1M252.1 238.9h1M229.9 253.1h1M281.0 252.0h1M238.5 250.7h1M279.5 265.4h1M292.6 254.8h1M269.8 257.2h1M237.0 254.5h1M256.8 255.1h1M253.1 259.9h1M266.1 251.7h1M257.9 263.9h1M254.6 253.6h1M237.2 276.4h1M262.1 253.9h1M245.0 243.1h1M250.6 256.1h1M286.6 258.8h1M260.2 257.7h1M245.2 253.8h1M251.7 255.3h1M288.1 259.9h1M266.4 251.5h1M288.8 251.6h1M250.2 250.7h1M292.3 244.4h1M272.8 257.1h1M266.6 257.2h1M264.3 249.0h1M227.0 262.4h1M280.0 255.2h1M280.2 253.0h1M251.1 257.5h1M269.8 262.5h1M250.5 259.5h1M265.2 251.2h1"/>
<path d="M235.4 257.6h1M247.6 252.0h1M259.0 250.4h1M260.6 254.6h1M236.5 258.9h1M255.2 253.4h1M257.3 259.3h1M249.7 250.7h1M282.9 258.2h1M225.2 263.5h1M244.1 258.1h1M262.7 255.3h1M236.5 252.4h1M279.7 253.0h1M271.4 256.2h1M254.3 260.1h1M262.4 257.1h1M248.4 257.9h1M286.6 256.6h1M226.3 251.1h1M243.0 250.5h1M225.1 255.5h1M270.4 257.7h1M242.9 256.2h1M264.4 253.0h1M254.8 254.9h1M232.5 249.5h1M265.5 262.3h1M294.0 261.8h1M282.4 255.7h1M239.0 237.5h1M242.2 255.9h1M254.1 250.7h1M292.2 252.1h1M238.3 252.0h1M265.2 260.1h1M249.1 259.6h1M288.8 260.9h1M292.2 258.8h1M254.6 253.6h1M269.8 260.6h1M229.9 256.9h1M215.3 252.1h1M258.4 253.8h1M273.9 250.2h1M276.6 255.1h1M259.3 250.4h1M235.8 252.5h1M294.1 240.3h1M245.4 260.5h1M263.1 252.5h1M286.8 258.0h1M274.4 255.8h1M291.5 237.6h1M238.9 259.9h1M249.4 239.6h1M271.2 262.3h1M259.4 252.5h1M247.6 254.0h1M304.0 258.3h1M258.0 249.0h1M223.6 251.3h1M282.4 260.5h1M234.4 270.0h1M256.3 247.2h1M246.2 253.4h1M275.9 253.7h1M292.2 261.8h1M252.0 251.7h1M270.7 254.3h1M276.0 261.9h1M237.7 255.6h1M291.8 257.3h1M263.0 257.3h1M272.7 260.3h1M254.0 257.9h1M263.0 252.7h1M248.5 257.7h1M267.4 257.7h1M244.2 252.7h1M258.3 250.8h1M289.5 254.4h1M242.6 251.5h1M264.1 248.5h1M284.2 258.0h1M267.2 258.9h1M288.1 252.1h1M263.7 258.1h1M283.1 256.4h1M280.9 243.2h1M252.8 254.5h1M287.4 255.4h1M250.7 256.4h1M289.3 257.4h1M225.0 252.7h1M270.9 254.4h1M262.2 251.6h1M239.1 265.2h1M282.7 251.9h1M267.0 255.3h1M293.3 237.6h1M260.0 260.9h1M294.1 258.1h1M251.8 254.9h1M289.5 257.6h1M214.3 253.3h1M293.3 250.8h1M258.9 258.7h1M265.1 250.2h1M233.7 268.3h1M234.7 226.1h1M255.1 250.8h1M288.2 262.6h1M253.2 254.3h1M293.2 257.1h1"/>
</g>
<line x1="199.50" y1="247.90" x2="349.20" y2="247.90" stroke="#bcbcbc" stroke-width="0.9"/>
<line x1="199.50" y1="260.60" x2="349.20" y2="260.60" stroke="#bcbcbc" stroke-width="0.9"/>
<line x1="199.50" y1="254.70" x2="349.20" y2="254.70" stroke="#727272" stroke-width="1.6"/>
<clipPath id="cz"><rect x="199.50" y="183.40" width="149.70" height="142.00"/></clipPath>
<g clip-path="url(#cz)" fill="none" stroke-linecap="round">
<path d="M205.90,253.99 L206.90,253.80 L207.90,253.63 L208.90,253.47 L209.90,253.32 L210.90,253.19 L211.90,253.08 L212.90,252.97 L213.90,252.88 L214.90,252.80 L215.90,252.72 L216.90,252.66 L217.90,252.61 L218.90,252.57 L219.90,252.53 L220.90,252.50 L221.90,252.48 L222.90,252.46 L223.90,252.46 L224.90,252.45 L225.90,252.45 L226.90,252.46 L227.90,252.47 L228.90,252.49 L229.90,252.51 L230.90,252.53 L231.90,252.56 L232.90,252.59 L233.90,252.63 L234.90,252.67 L235.90,252.71 L236.90,252.75 L237.90,252.79 L238.90,252.84 L239.90,252.89 L240.90,252.95 L241.90,253.00 L242.90,253.06 L243.90,253.12 L244.90,253.18 L245.90,253.24 L246.90,253.30 L247.90,253.37 L248.90,253.44 L249.90,253.51 L250.90,253.58 L251.90,253.65 L252.90,253.72 L253.90,253.79 L254.90,253.87 L255.90,253.95 L256.90,254.02 L257.90,254.10 L258.90,254.18 L259.90,254.26 L260.90,254.35 L261.90,254.43 L262.90,254.51 L263.90,254.60 L264.90,254.68 L265.90,254.77 L266.90,254.85 L267.90,254.94 L268.90,255.03 L269.90,255.11 L270.90,255.20 L271.90,255.29 L272.90,255.37 L273.90,255.46 L274.90,255.55 L275.90,255.63 L276.90,255.72 L277.90,255.80 L278.90,255.89 L279.90,255.97 L280.90,256.05 L281.90,256.14 L282.90,256.22 L283.90,256.29 L284.90,256.37 L285.90,256.45 L286.90,256.52 L287.90,256.59 L288.90,256.66 L289.90,256.73 L290.90,256.79 L291.90,256.86 L292.90,256.91 L293.90,256.97 L294.90,257.02 L295.90,257.07 L296.90,257.12 L297.90,257.16 L298.90,257.20 L299.90,257.24 L300.90,257.27 L301.90,257.30 L302.90,257.32 L303.90,257.34 L304.90,257.35 L305.90,257.36 L306.90,257.37 L307.90,257.37 L308.90,257.37 L309.90,257.36 L310.90,257.34 L311.90,257.33 L312.90,257.30 L313.90,257.28 L314.90,257.24 L315.90,257.21 L316.90,257.17 L317.90,257.12 L318.90,257.07 L319.90,257.02 L320.90,256.96 L321.90,256.89 L322.90,256.83 L323.90,256.76 L324.90,256.69 L325.90,256.61 L326.90,256.54 L327.90,256.46 L328.90,256.38 L329.90,256.29 L330.90,256.21 L331.90,256.13 L332.90,256.04 L333.90,255.96 L334.90,255.88 L335.90,255.81 L336.90,255.73 L337.90,255.66 L338.90,255.60 L339.90,255.54 L340.90,255.48 L341.90,255.44 L342.90,255.40" stroke="#ea8a40" stroke-width="1.45" stroke-linejoin="round"/>
<path d="M205.90,254.00 L206.90,254.04 L207.90,254.07 L208.90,254.09 L209.90,254.11 L210.90,254.13 L211.90,254.14 L212.90,254.14 L213.90,254.14 L214.90,254.14 L215.90,254.14 L216.90,254.14 L217.90,254.13 L218.90,254.12 L219.90,254.11 L220.90,254.10 L221.90,254.09 L222.90,254.08 L223.90,254.07 L224.90,254.06 L225.90,254.05 L226.90,254.04 L227.90,254.03 L228.90,254.02 L229.90,254.02 L230.90,254.01 L231.90,254.01 L232.90,254.00 L233.90,254.00 L234.90,254.00 L235.90,254.00 L236.90,254.01 L237.90,254.01 L238.90,254.01 L239.90,254.02 L240.90,254.03 L241.90,254.04 L242.90,254.05 L243.90,254.06 L244.90,254.07 L245.90,254.09 L246.90,254.10 L247.90,254.11 L248.90,254.13 L249.90,254.15 L250.90,254.17 L251.90,254.18 L252.90,254.20 L253.90,254.22 L254.90,254.24 L255.90,254.26 L256.90,254.28 L257.90,254.30 L258.90,254.32 L259.90,254.34 L260.90,254.36 L261.90,254.38 L262.90,254.40 L263.90,254.42 L264.90,254.44 L265.90,254.46 L266.90,254.48 L267.90,254.50 L268.90,254.52 L269.90,254.54 L270.90,254.56 L271.90,254.58 L272.90,254.60 L273.90,254.62 L274.90,254.64 L275.90,254.66 L276.90,254.69 L277.90,254.71 L278.90,254.74 L279.90,254.76 L280.90,254.79 L281.90,254.83 L282.90,254.86 L283.90,254.89 L284.90,254.93 L285.90,254.98 L286.90,255.02 L287.90,255.08 L288.90,255.13 L289.90,255.19 L290.90,255.26 L291.90,255.34 L292.90,255.42 L293.90,255.51 L294.90,255.61 L295.90,255.71 L296.90,255.83 L297.90,255.96 L298.90,256.10 L299.90,256.25 L300.90,256.41 L301.90,256.59 L302.90,256.79 L303.90,257.00 L304.90,257.23 L305.90,257.47 L306.90,257.74 L307.40,257.88" stroke="#2a36b4" stroke-width="1.6" stroke-linejoin="round"/>
</g>
<rect x="199.50" y="183.40" width="149.70" height="142.00" fill="none" stroke="#9a9a9a" stroke-width="0.9"/>
</g>
<text x="25.0" y="12.90" font-size="10.8" text-anchor="end" fill="#1a1a1a" stroke="#1a1a1a" stroke-width="0.25">3</text>
<rect x="12.2" y="8.90" width="6.1" height="1.0" fill="#1a1a1a"/>
<text x="25.0" y="36.62" font-size="10.8" text-anchor="end" fill="#1a1a1a" stroke="#1a1a1a" stroke-width="0.25">2</text>
<rect x="12.2" y="32.62" width="6.1" height="1.0" fill="#1a1a1a"/>
<text x="25.0" y="60.33" font-size="10.8" text-anchor="end" fill="#1a1a1a" stroke="#1a1a1a" stroke-width="0.25">1</text>
<rect x="12.2" y="56.33" width="6.1" height="1.0" fill="#1a1a1a"/>
<text x="25.0" y="84.05" font-size="10.8" text-anchor="end" fill="#1a1a1a" stroke="#1a1a1a" stroke-width="0.25">0</text>
<text x="25.0" y="107.77" font-size="10.8" text-anchor="end" fill="#1a1a1a" stroke="#1a1a1a" stroke-width="0.25">1</text>
<text x="25.0" y="131.48" font-size="10.8" text-anchor="end" fill="#1a1a1a" stroke="#1a1a1a" stroke-width="0.25">2</text>
<text x="25.0" y="155.20" font-size="10.8" text-anchor="end" fill="#1a1a1a" stroke="#1a1a1a" stroke-width="0.25">3</text>
<text x="25.0" y="187.70" font-size="10.8" text-anchor="end" fill="#1a1a1a" stroke="#1a1a1a" stroke-width="0.25">3</text>
<rect x="12.2" y="183.70" width="6.1" height="1.0" fill="#1a1a1a"/>
<text x="25.0" y="211.37" font-size="10.8" text-anchor="end" fill="#1a1a1a" stroke="#1a1a1a" stroke-width="0.25">2</text>
<rect x="12.2" y="207.37" width="6.1" height="1.0" fill="#1a1a1a"/>
<text x="25.0" y="235.03" font-size="10.8" text-anchor="end" fill="#1a1a1a" stroke="#1a1a1a" stroke-width="0.25">1</text>
<rect x="12.2" y="231.03" width="6.1" height="1.0" fill="#1a1a1a"/>
<text x="25.0" y="258.70" font-size="10.8" text-anchor="end" fill="#1a1a1a" stroke="#1a1a1a" stroke-width="0.25">0</text>
<text x="25.0" y="282.37" font-size="10.8" text-anchor="end" fill="#1a1a1a" stroke="#1a1a1a" stroke-width="0.25">1</text>
<text x="25.0" y="306.03" font-size="10.8" text-anchor="end" fill="#1a1a1a" stroke="#1a1a1a" stroke-width="0.25">2</text>
<text x="25.0" y="329.70" font-size="10.8" text-anchor="end" fill="#1a1a1a" stroke="#1a1a1a" stroke-width="0.25">3</text>
<text x="37.50" y="335.6" font-size="10.8" text-anchor="middle" fill="#1a1a1a" stroke="#1a1a1a" stroke-width="0.25">0</text>
<text x="79.10" y="335.6" font-size="10.8" text-anchor="middle" fill="#1a1a1a" stroke="#1a1a1a" stroke-width="0.25">2</text>
<text x="120.70" y="335.6" font-size="10.8" text-anchor="middle" fill="#1a1a1a" stroke="#1a1a1a" stroke-width="0.25">4</text>
<text x="162.30" y="335.6" font-size="10.8" text-anchor="middle" fill="#1a1a1a" stroke="#1a1a1a" stroke-width="0.25">6</text>
<text x="209.40" y="335.6" font-size="10.8" text-anchor="middle" fill="#1a1a1a" stroke="#1a1a1a" stroke-width="0.25">0</text>
<text x="251.00" y="335.6" font-size="10.8" text-anchor="middle" fill="#1a1a1a" stroke="#1a1a1a" stroke-width="0.25">2</text>
<text x="292.60" y="335.6" font-size="10.8" text-anchor="middle" fill="#1a1a1a" stroke="#1a1a1a" stroke-width="0.25">4</text>
<text x="334.20" y="335.6" font-size="10.8" text-anchor="middle" fill="#1a1a1a" stroke="#1a1a1a" stroke-width="0.25">6</text>
<line x1="25.80" y1="8.60" x2="27.50" y2="8.60" stroke="#666" stroke-width="0.8"/>
<line x1="25.80" y1="32.32" x2="27.50" y2="32.32" stroke="#666" stroke-width="0.8"/>
<line x1="25.80" y1="56.03" x2="27.50" y2="56.03" stroke="#666" stroke-width="0.8"/>
<line x1="25.80" y1="79.75" x2="27.50" y2="79.75" stroke="#666" stroke-width="0.8"/>
<line x1="25.80" y1="103.47" x2="27.50" y2="103.47" stroke="#666" stroke-width="0.8"/>
<line x1="25.80" y1="127.18" x2="27.50" y2="127.18" stroke="#666" stroke-width="0.8"/>
<line x1="25.80" y1="150.90" x2="27.50" y2="150.90" stroke="#666" stroke-width="0.8"/>
<line x1="37.50" y1="150.90" x2="37.50" y2="152.60" stroke="#666" stroke-width="0.8"/>
<line x1="79.10" y1="150.90" x2="79.10" y2="152.60" stroke="#666" stroke-width="0.8"/>
<line x1="120.70" y1="150.90" x2="120.70" y2="152.60" stroke="#666" stroke-width="0.8"/>
<line x1="162.30" y1="150.90" x2="162.30" y2="152.60" stroke="#666" stroke-width="0.8"/>
<line x1="197.80" y1="8.60" x2="199.50" y2="8.60" stroke="#666" stroke-width="0.8"/>
<line x1="197.80" y1="32.32" x2="199.50" y2="32.32" stroke="#666" stroke-width="0.8"/>
<line x1="197.80" y1="56.03" x2="199.50" y2="56.03" stroke="#666" stroke-width="0.8"/>
<line x1="197.80" y1="79.75" x2="199.50" y2="79.75" stroke="#666" stroke-width="0.8"/>
<line x1="197.80" y1="103.47" x2="199.50" y2="103.47" stroke="#666" stroke-width="0.8"/>
<line x1="197.80" y1="127.18" x2="199.50" y2="127.18" stroke="#666" stroke-width="0.8"/>
<line x1="197.80" y1="150.90" x2="199.50" y2="150.90" stroke="#666" stroke-width="0.8"/>
<line x1="209.40" y1="150.90" x2="209.40" y2="152.60" stroke="#666" stroke-width="0.8"/>
<line x1="251.00" y1="150.90" x2="251.00" y2="152.60" stroke="#666" stroke-width="0.8"/>
<line x1="292.60" y1="150.90" x2="292.60" y2="152.60" stroke="#666" stroke-width="0.8"/>
<line x1="334.20" y1="150.90" x2="334.20" y2="152.60" stroke="#666" stroke-width="0.8"/>
<line x1="25.80" y1="183.40" x2="27.50" y2="183.40" stroke="#666" stroke-width="0.8"/>
<line x1="25.80" y1="207.07" x2="27.50" y2="207.07" stroke="#666" stroke-width="0.8"/>
<line x1="25.80" y1="230.73" x2="27.50" y2="230.73" stroke="#666" stroke-width="0.8"/>
<line x1="25.80" y1="254.40" x2="27.50" y2="254.40" stroke="#666" stroke-width="0.8"/>
<line x1="25.80" y1="278.07" x2="27.50" y2="278.07" stroke="#666" stroke-width="0.8"/>
<line x1="25.80" y1="301.73" x2="27.50" y2="301.73" stroke="#666" stroke-width="0.8"/>
<line x1="25.80" y1="325.40" x2="27.50" y2="325.40" stroke="#666" stroke-width="0.8"/>
<line x1="37.50" y1="325.40" x2="37.50" y2="327.10" stroke="#666" stroke-width="0.8"/>
<line x1="79.10" y1="325.40" x2="79.10" y2="327.10" stroke="#666" stroke-width="0.8"/>
<line x1="120.70" y1="325.40" x2="120.70" y2="327.10" stroke="#666" stroke-width="0.8"/>
<line x1="162.30" y1="325.40" x2="162.30" y2="327.10" stroke="#666" stroke-width="0.8"/>
<line x1="197.80" y1="183.40" x2="199.50" y2="183.40" stroke="#666" stroke-width="0.8"/>
<line x1="197.80" y1="207.07" x2="199.50" y2="207.07" stroke="#666" stroke-width="0.8"/>
<line x1="197.80" y1="230.73" x2="199.50" y2="230.73" stroke="#666" stroke-width="0.8"/>
<line x1="197.80" y1="254.40" x2="199.50" y2="254.40" stroke="#666" stroke-width="0.8"/>
<line x1="197.80" y1="278.07" x2="199.50" y2="278.07" stroke="#666" stroke-width="0.8"/>
<line x1="197.80" y1="301.73" x2="199.50" y2="301.73" stroke="#666" stroke-width="0.8"/>
<line x1="197.80" y1="325.40" x2="199.50" y2="325.40" stroke="#666" stroke-width="0.8"/>
<line x1="209.40" y1="325.40" x2="209.40" y2="327.10" stroke="#666" stroke-width="0.8"/>
<line x1="251.00" y1="325.40" x2="251.00" y2="327.10" stroke="#666" stroke-width="0.8"/>
<line x1="292.60" y1="325.40" x2="292.60" y2="327.10" stroke="#666" stroke-width="0.8"/>
<line x1="334.20" y1="325.40" x2="334.20" y2="327.10" stroke="#666" stroke-width="0.8"/>
<text x="102.50" y="6.30" font-size="12.5" font-style="italic" text-anchor="middle" fill="#1a1a1a" stroke="#1a1a1a" stroke-width="0.25">g</text>
<text x="274.30" y="6.30" font-size="12.5" font-style="italic" text-anchor="middle" fill="#1a1a1a" stroke="#1a1a1a" stroke-width="0.25">r</text>
<text x="102.80" y="180.80" font-size="12.5" font-style="italic" text-anchor="middle" fill="#1a1a1a" stroke="#1a1a1a" stroke-width="0.25">i</text>
<text x="274.60" y="180.90" font-size="12.5" font-style="italic" text-anchor="middle" fill="#1a1a1a" stroke="#1a1a1a" stroke-width="0.25">z</text>
<text x="75.60" y="159.90" font-size="11.00" font-style="italic" fill="#1a1a1a" stroke="#1a1a1a" stroke-width="0.25">g</text><text x="81.50" y="161.40" font-size="7.80" font-style="italic" textLength="14.3" lengthAdjust="spacingAndGlyphs" fill="#1a1a1a" stroke="#1a1a1a" stroke-width="0.4">sdss</text><text x="99.20" y="159.90" font-size="11.00" fill="#1a1a1a" stroke="#1a1a1a" stroke-width="0.25">−</text><text x="107.90" y="159.90" font-size="11.00" font-style="italic" fill="#1a1a1a" stroke="#1a1a1a" stroke-width="0.25">z</text><text x="114.20" y="161.40" font-size="7.80" font-style="italic" textLength="14.0" lengthAdjust="spacingAndGlyphs" fill="#1a1a1a" stroke="#1a1a1a" stroke-width="0.4">sdss</text>
<text x="248.00" y="159.90" font-size="11.00" font-style="italic" fill="#1a1a1a" stroke="#1a1a1a" stroke-width="0.25">g</text><text x="253.90" y="161.40" font-size="7.80" font-style="italic" textLength="14.3" lengthAdjust="spacingAndGlyphs" fill="#1a1a1a" stroke="#1a1a1a" stroke-width="0.4">sdss</text><text x="271.60" y="159.90" font-size="11.00" fill="#1a1a1a" stroke="#1a1a1a" stroke-width="0.25">−</text><text x="280.30" y="159.90" font-size="11.00" font-style="italic" fill="#1a1a1a" stroke="#1a1a1a" stroke-width="0.25">z</text><text x="286.60" y="161.40" font-size="7.80" font-style="italic" textLength="14.0" lengthAdjust="spacingAndGlyphs" fill="#1a1a1a" stroke="#1a1a1a" stroke-width="0.4">sdss</text>
<text x="75.60" y="346.30" font-size="11.00" font-style="italic" fill="#1a1a1a" stroke="#1a1a1a" stroke-width="0.25">g</text><text x="81.50" y="347.80" font-size="7.80" font-style="italic" textLength="14.3" lengthAdjust="spacingAndGlyphs" fill="#1a1a1a" stroke="#1a1a1a" stroke-width="0.4">sdss</text><text x="99.20" y="346.30" font-size="11.00" fill="#1a1a1a" stroke="#1a1a1a" stroke-width="0.25">−</text><text x="107.90" y="346.30" font-size="11.00" font-style="italic" fill="#1a1a1a" stroke="#1a1a1a" stroke-width="0.25">z</text><text x="114.20" y="347.80" font-size="7.80" font-style="italic" textLength="14.0" lengthAdjust="spacingAndGlyphs" fill="#1a1a1a" stroke="#1a1a1a" stroke-width="0.4">sdss</text>
<text x="248.00" y="346.30" font-size="11.00" font-style="italic" fill="#1a1a1a" stroke="#1a1a1a" stroke-width="0.25">g</text><text x="253.90" y="347.80" font-size="7.80" font-style="italic" textLength="14.3" lengthAdjust="spacingAndGlyphs" fill="#1a1a1a" stroke="#1a1a1a" stroke-width="0.4">sdss</text><text x="271.60" y="346.30" font-size="11.00" fill="#1a1a1a" stroke="#1a1a1a" stroke-width="0.25">−</text><text x="280.30" y="346.30" font-size="11.00" font-style="italic" fill="#1a1a1a" stroke="#1a1a1a" stroke-width="0.25">z</text><text x="286.60" y="347.80" font-size="7.80" font-style="italic" textLength="14.0" lengthAdjust="spacingAndGlyphs" fill="#1a1a1a" stroke="#1a1a1a" stroke-width="0.4">sdss</text>
<g transform="translate(7.90,107.80) rotate(-90)"><text x="0.00" y="0.00" font-size="10.80" font-style="italic" fill="#1a1a1a" stroke="#1a1a1a" stroke-width="0.25">g</text><text x="6.20" y="1.50" font-size="7.00" font-style="italic" textLength="12.3" lengthAdjust="spacingAndGlyphs" fill="#1a1a1a" stroke="#1a1a1a" stroke-width="0.4">DES</text><text x="23.30" y="0.00" font-size="10.80" fill="#1a1a1a" stroke="#1a1a1a" stroke-width="0.25">−</text><text x="32.00" y="0.00" font-size="10.80" font-style="italic" fill="#1a1a1a" stroke="#1a1a1a" stroke-width="0.25">g</text><text x="39.10" y="1.50" font-size="7.00" font-style="italic" textLength="16.4" lengthAdjust="spacingAndGlyphs" fill="#1a1a1a" stroke="#1a1a1a" stroke-width="0.4">SDSS</text></g>
<g transform="translate(195.30,105.90) rotate(-90)"><text x="0.00" y="0.00" font-size="10.80" font-style="italic" fill="#1a1a1a" stroke="#1a1a1a" stroke-width="0.25">r</text><text x="7.00" y="1.50" font-size="7.00" font-style="italic" textLength="9.6" lengthAdjust="spacingAndGlyphs" fill="#1a1a1a" stroke="#1a1a1a" stroke-width="0.4">DES</text><text x="21.60" y="0.00" font-size="10.80" fill="#1a1a1a" stroke="#1a1a1a" stroke-width="0.25">−</text><text x="30.00" y="0.00" font-size="10.80" font-style="italic" fill="#1a1a1a" stroke="#1a1a1a" stroke-width="0.25">r</text><text x="36.80" y="1.50" font-size="7.00" font-style="italic" textLength="14.2" lengthAdjust="spacingAndGlyphs" fill="#1a1a1a" stroke="#1a1a1a" stroke-width="0.4">SDSS</text></g>
<g transform="translate(7.80,280.50) rotate(-90)"><text x="0.00" y="0.00" font-size="10.80" font-style="italic" fill="#1a1a1a" stroke="#1a1a1a" stroke-width="0.25">i</text><text x="4.20" y="1.50" font-size="7.00" font-style="italic" textLength="13.0" lengthAdjust="spacingAndGlyphs" fill="#1a1a1a" stroke="#1a1a1a" stroke-width="0.4">DES</text><text x="21.60" y="0.00" font-size="10.80" fill="#1a1a1a" stroke="#1a1a1a" stroke-width="0.25">−</text><text x="31.00" y="0.00" font-size="10.80" font-style="italic" fill="#1a1a1a" stroke="#1a1a1a" stroke-width="0.25">i</text><text x="35.50" y="1.50" font-size="7.00" font-style="italic" textLength="14.6" lengthAdjust="spacingAndGlyphs" fill="#1a1a1a" stroke="#1a1a1a" stroke-width="0.4">SDSS</text></g>
<g transform="translate(195.30,281.00) rotate(-90)"><text x="0.00" y="0.00" font-size="10.80" font-style="italic" fill="#1a1a1a" stroke="#1a1a1a" stroke-width="0.25">z</text><text x="6.00" y="1.50" font-size="7.00" font-style="italic" textLength="11.8" lengthAdjust="spacingAndGlyphs" fill="#1a1a1a" stroke="#1a1a1a" stroke-width="0.4">DES</text><text x="22.00" y="0.00" font-size="10.80" fill="#1a1a1a" stroke="#1a1a1a" stroke-width="0.25">−</text><text x="30.60" y="0.00" font-size="10.80" font-style="italic" fill="#1a1a1a" stroke="#1a1a1a" stroke-width="0.25">z</text><text x="36.60" y="1.50" font-size="7.00" font-style="italic" textLength="15.8" lengthAdjust="spacingAndGlyphs" fill="#1a1a1a" stroke="#1a1a1a" stroke-width="0.4">SDSS</text></g>
<rect x="263.5" y="13.4" width="81.0" height="30.6" rx="1" fill="#fff" fill-opacity="0.9" stroke="#e8e8e8" stroke-width="0.8"/>
<line x1="266.5" y1="21.5" x2="286.5" y2="21.5" stroke="#f0a068" stroke-width="0.9"/><circle cx="276.6" cy="21.5" r="1.3" fill="#d8702a"/>
<line x1="266.5" y1="35.5" x2="286.5" y2="35.5" stroke="#5a64cc" stroke-width="0.9"/><circle cx="276.6" cy="35.5" r="1.3" fill="#2030b0"/>
<text x="294.3" y="25.3" font-size="10.6" fill="#1a1a1a" stroke="#1a1a1a" stroke-width="0.25">Original</text>
<text x="294.3" y="39.0" font-size="10.6" fill="#1a1a1a" stroke="#1a1a1a" stroke-width="0.25">Corrected</text>
</svg></body></html>
